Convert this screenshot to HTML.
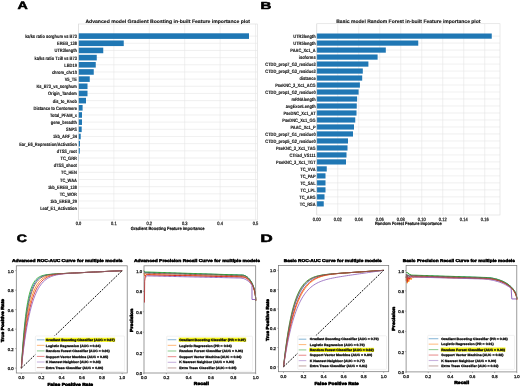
<!DOCTYPE html>
<html><head><meta charset="utf-8"><style>
html,body{margin:0;padding:0;background:#fff;overflow:hidden}
svg{display:block;will-change:transform}
text{font-family:"Liberation Sans",sans-serif;text-rendering:geometricPrecision}
</style></head><body>
<svg width="520" height="386" viewBox="0 0 520 386">
<rect width="520" height="386" fill="#fff"/>
<text x="17.42" y="8.72" font-size="10.83" font-weight="bold" text-anchor="start" fill="#000" stroke="#000" stroke-width="0.55" stroke-linejoin="round" textLength="10.28" lengthAdjust="spacingAndGlyphs">A</text>
<text x="260.57" y="8.68" font-size="10.17" font-weight="bold" text-anchor="start" fill="#000" stroke="#000" stroke-width="0.55" stroke-linejoin="round" textLength="10.83" lengthAdjust="spacingAndGlyphs">B</text>
<text x="16.89" y="241.72" font-size="10.80" font-weight="bold" text-anchor="start" fill="#000" stroke="#000" stroke-width="0.55" stroke-linejoin="round" textLength="10.22" lengthAdjust="spacingAndGlyphs">C</text>
<text x="260.45" y="241.83" font-size="10.83" font-weight="bold" text-anchor="start" fill="#000" stroke="#000" stroke-width="0.55" stroke-linejoin="round" textLength="12.19" lengthAdjust="spacingAndGlyphs">D</text>
<rect x="78.50" y="24.00" width="178.75" height="196.00" fill="#fff" stroke="none" stroke-width="0"/>
<line x1="78.50" y1="24.00" x2="78.50" y2="220.00" stroke="#e6e6e6" stroke-width="0.6"/>
<line x1="113.90" y1="24.00" x2="113.90" y2="220.00" stroke="#e6e6e6" stroke-width="0.6"/>
<line x1="149.30" y1="24.00" x2="149.30" y2="220.00" stroke="#e6e6e6" stroke-width="0.6"/>
<line x1="184.70" y1="24.00" x2="184.70" y2="220.00" stroke="#e6e6e6" stroke-width="0.6"/>
<line x1="220.10" y1="24.00" x2="220.10" y2="220.00" stroke="#e6e6e6" stroke-width="0.6"/>
<line x1="255.50" y1="24.00" x2="255.50" y2="220.00" stroke="#e6e6e6" stroke-width="0.6"/>
<line x1="78.50" y1="36.10" x2="257.25" y2="36.10" stroke="#e6e6e6" stroke-width="0.6"/>
<line x1="78.50" y1="43.27" x2="257.25" y2="43.27" stroke="#e6e6e6" stroke-width="0.6"/>
<line x1="78.50" y1="50.44" x2="257.25" y2="50.44" stroke="#e6e6e6" stroke-width="0.6"/>
<line x1="78.50" y1="57.61" x2="257.25" y2="57.61" stroke="#e6e6e6" stroke-width="0.6"/>
<line x1="78.50" y1="64.78" x2="257.25" y2="64.78" stroke="#e6e6e6" stroke-width="0.6"/>
<line x1="78.50" y1="71.95" x2="257.25" y2="71.95" stroke="#e6e6e6" stroke-width="0.6"/>
<line x1="78.50" y1="79.12" x2="257.25" y2="79.12" stroke="#e6e6e6" stroke-width="0.6"/>
<line x1="78.50" y1="86.29" x2="257.25" y2="86.29" stroke="#e6e6e6" stroke-width="0.6"/>
<line x1="78.50" y1="93.46" x2="257.25" y2="93.46" stroke="#e6e6e6" stroke-width="0.6"/>
<line x1="78.50" y1="100.63" x2="257.25" y2="100.63" stroke="#e6e6e6" stroke-width="0.6"/>
<line x1="78.50" y1="107.80" x2="257.25" y2="107.80" stroke="#e6e6e6" stroke-width="0.6"/>
<line x1="78.50" y1="114.97" x2="257.25" y2="114.97" stroke="#e6e6e6" stroke-width="0.6"/>
<line x1="78.50" y1="122.14" x2="257.25" y2="122.14" stroke="#e6e6e6" stroke-width="0.6"/>
<line x1="78.50" y1="129.31" x2="257.25" y2="129.31" stroke="#e6e6e6" stroke-width="0.6"/>
<line x1="78.50" y1="136.48" x2="257.25" y2="136.48" stroke="#e6e6e6" stroke-width="0.6"/>
<line x1="78.50" y1="143.65" x2="257.25" y2="143.65" stroke="#e6e6e6" stroke-width="0.6"/>
<line x1="78.50" y1="150.82" x2="257.25" y2="150.82" stroke="#e6e6e6" stroke-width="0.6"/>
<line x1="78.50" y1="157.99" x2="257.25" y2="157.99" stroke="#e6e6e6" stroke-width="0.6"/>
<line x1="78.50" y1="165.16" x2="257.25" y2="165.16" stroke="#e6e6e6" stroke-width="0.6"/>
<line x1="78.50" y1="172.33" x2="257.25" y2="172.33" stroke="#e6e6e6" stroke-width="0.6"/>
<line x1="78.50" y1="179.50" x2="257.25" y2="179.50" stroke="#e6e6e6" stroke-width="0.6"/>
<line x1="78.50" y1="186.67" x2="257.25" y2="186.67" stroke="#e6e6e6" stroke-width="0.6"/>
<line x1="78.50" y1="193.84" x2="257.25" y2="193.84" stroke="#e6e6e6" stroke-width="0.6"/>
<line x1="78.50" y1="201.01" x2="257.25" y2="201.01" stroke="#e6e6e6" stroke-width="0.6"/>
<line x1="78.50" y1="208.18" x2="257.25" y2="208.18" stroke="#e6e6e6" stroke-width="0.6"/>
<rect x="78.50" y="33.30" width="170.50" height="5.60" fill="#1f77b4" stroke="none" stroke-width="0"/>
<rect x="78.50" y="40.47" width="45.25" height="5.60" fill="#1f77b4" stroke="none" stroke-width="0"/>
<rect x="78.50" y="47.64" width="24.75" height="5.60" fill="#1f77b4" stroke="none" stroke-width="0"/>
<rect x="78.50" y="54.81" width="18.25" height="5.60" fill="#1f77b4" stroke="none" stroke-width="0"/>
<rect x="78.50" y="61.98" width="17.25" height="5.60" fill="#1f77b4" stroke="none" stroke-width="0"/>
<rect x="78.50" y="69.15" width="15.25" height="5.60" fill="#1f77b4" stroke="none" stroke-width="0"/>
<rect x="78.50" y="76.32" width="11.25" height="5.60" fill="#1f77b4" stroke="none" stroke-width="0"/>
<rect x="78.50" y="83.49" width="9.00" height="5.60" fill="#1f77b4" stroke="none" stroke-width="0"/>
<rect x="78.50" y="90.66" width="9.00" height="5.60" fill="#1f77b4" stroke="none" stroke-width="0"/>
<rect x="78.50" y="97.83" width="7.50" height="5.60" fill="#1f77b4" stroke="none" stroke-width="0"/>
<rect x="78.50" y="105.00" width="4.10" height="5.60" fill="#1f77b4" stroke="none" stroke-width="0"/>
<rect x="78.50" y="112.17" width="3.50" height="5.60" fill="#1f77b4" stroke="none" stroke-width="0"/>
<rect x="78.50" y="119.34" width="3.50" height="5.60" fill="#1f77b4" stroke="none" stroke-width="0"/>
<rect x="78.50" y="126.51" width="3.20" height="5.60" fill="#1f77b4" stroke="none" stroke-width="0"/>
<rect x="78.50" y="133.68" width="2.20" height="5.60" fill="#1f77b4" stroke="none" stroke-width="0"/>
<rect x="78.50" y="140.85" width="1.50" height="5.60" fill="#1f77b4" stroke="none" stroke-width="0"/>
<rect x="78.50" y="148.02" width="1.30" height="5.60" fill="#1f77b4" stroke="none" stroke-width="0"/>
<rect x="78.50" y="155.19" width="0.40" height="5.60" fill="#1f77b4" stroke="none" stroke-width="0"/>
<rect x="78.50" y="24.00" width="178.75" height="196.00" fill="none" stroke="#d9d9d9" stroke-width="0.6"/>
<text x="76.90" y="38.10" font-size="4.80" font-weight="bold" text-anchor="end" fill="#111" stroke="#111" stroke-width="0.12" stroke-linejoin="round" textLength="51.76" lengthAdjust="spacingAndGlyphs">ka/ks ratio sorghum vs B73</text>
<text x="76.90" y="45.27" font-size="4.80" font-weight="bold" text-anchor="end" fill="#111" stroke="#111" stroke-width="0.12" stroke-linejoin="round" textLength="19.91" lengthAdjust="spacingAndGlyphs">EREB_138</text>
<text x="76.90" y="52.44" font-size="4.80" font-weight="bold" text-anchor="end" fill="#111" stroke="#111" stroke-width="0.12" stroke-linejoin="round" textLength="22.33" lengthAdjust="spacingAndGlyphs">UTR3length</text>
<text x="76.90" y="59.61" font-size="4.80" font-weight="bold" text-anchor="end" fill="#111" stroke="#111" stroke-width="0.12" stroke-linejoin="round" textLength="42.47" lengthAdjust="spacingAndGlyphs">ka/ks ratio Tzi8 vs B73</text>
<text x="76.90" y="66.78" font-size="4.80" font-weight="bold" text-anchor="end" fill="#111" stroke="#111" stroke-width="0.12" stroke-linejoin="round" textLength="12.61" lengthAdjust="spacingAndGlyphs">LBD19</text>
<text x="76.90" y="73.95" font-size="4.80" font-weight="bold" text-anchor="end" fill="#111" stroke="#111" stroke-width="0.12" stroke-linejoin="round" textLength="25.00" lengthAdjust="spacingAndGlyphs">chrom_chr10</text>
<text x="76.90" y="81.12" font-size="4.80" font-weight="bold" text-anchor="end" fill="#111" stroke="#111" stroke-width="0.12" stroke-linejoin="round" textLength="12.17" lengthAdjust="spacingAndGlyphs">V5_TE</text>
<text x="76.90" y="88.29" font-size="4.80" font-weight="bold" text-anchor="end" fill="#111" stroke="#111" stroke-width="0.12" stroke-linejoin="round" textLength="40.48" lengthAdjust="spacingAndGlyphs">Ks_B73_vs_sorghum</text>
<text x="76.90" y="95.46" font-size="4.80" font-weight="bold" text-anchor="end" fill="#111" stroke="#111" stroke-width="0.12" stroke-linejoin="round" textLength="28.89" lengthAdjust="spacingAndGlyphs">Origin_Tandem</text>
<text x="76.90" y="102.63" font-size="4.80" font-weight="bold" text-anchor="end" fill="#111" stroke="#111" stroke-width="0.12" stroke-linejoin="round" textLength="24.10" lengthAdjust="spacingAndGlyphs">dis_to_Knob</text>
<text x="76.90" y="109.80" font-size="4.80" font-weight="bold" text-anchor="end" fill="#111" stroke="#111" stroke-width="0.12" stroke-linejoin="round" textLength="43.35" lengthAdjust="spacingAndGlyphs">Distance to Centomere</text>
<text x="76.90" y="116.97" font-size="4.80" font-weight="bold" text-anchor="end" fill="#111" stroke="#111" stroke-width="0.12" stroke-linejoin="round" textLength="26.91" lengthAdjust="spacingAndGlyphs">Total_PFAM_x</text>
<text x="76.90" y="124.14" font-size="4.80" font-weight="bold" text-anchor="end" fill="#111" stroke="#111" stroke-width="0.12" stroke-linejoin="round" textLength="26.10" lengthAdjust="spacingAndGlyphs">gene_breadth</text>
<text x="76.90" y="131.31" font-size="4.80" font-weight="bold" text-anchor="end" fill="#111" stroke="#111" stroke-width="0.12" stroke-linejoin="round" textLength="10.84" lengthAdjust="spacingAndGlyphs">SNPS</text>
<text x="76.90" y="138.48" font-size="4.80" font-weight="bold" text-anchor="end" fill="#111" stroke="#111" stroke-width="0.12" stroke-linejoin="round" textLength="23.89" lengthAdjust="spacingAndGlyphs">1kb_ARF_34</text>
<text x="76.90" y="145.65" font-size="4.80" font-weight="bold" text-anchor="end" fill="#111" stroke="#111" stroke-width="0.12" stroke-linejoin="round" textLength="57.73" lengthAdjust="spacingAndGlyphs">Ear_E6_Repression/Activation</text>
<text x="76.90" y="152.82" font-size="4.80" font-weight="bold" text-anchor="end" fill="#111" stroke="#111" stroke-width="0.12" stroke-linejoin="round" textLength="20.12" lengthAdjust="spacingAndGlyphs">dTSS_root</text>
<text x="76.90" y="159.99" font-size="4.80" font-weight="bold" text-anchor="end" fill="#111" stroke="#111" stroke-width="0.12" stroke-linejoin="round" textLength="16.36" lengthAdjust="spacingAndGlyphs">TC_GRR</text>
<text x="76.90" y="167.16" font-size="4.80" font-weight="bold" text-anchor="end" fill="#111" stroke="#111" stroke-width="0.12" stroke-linejoin="round" textLength="23.22" lengthAdjust="spacingAndGlyphs">dTSS_shoot</text>
<text x="76.90" y="174.33" font-size="4.80" font-weight="bold" text-anchor="end" fill="#111" stroke="#111" stroke-width="0.12" stroke-linejoin="round" textLength="15.92" lengthAdjust="spacingAndGlyphs">TC_HEN</text>
<text x="76.90" y="181.50" font-size="4.80" font-weight="bold" text-anchor="end" fill="#111" stroke="#111" stroke-width="0.12" stroke-linejoin="round" textLength="16.80" lengthAdjust="spacingAndGlyphs">TC_WAA</text>
<text x="76.90" y="188.67" font-size="4.80" font-weight="bold" text-anchor="end" fill="#111" stroke="#111" stroke-width="0.12" stroke-linejoin="round" textLength="28.98" lengthAdjust="spacingAndGlyphs">1kb_EREB_138</text>
<text x="76.90" y="195.84" font-size="4.80" font-weight="bold" text-anchor="end" fill="#111" stroke="#111" stroke-width="0.12" stroke-linejoin="round" textLength="17.25" lengthAdjust="spacingAndGlyphs">TC_WOR</text>
<text x="76.90" y="203.01" font-size="4.80" font-weight="bold" text-anchor="end" fill="#111" stroke="#111" stroke-width="0.12" stroke-linejoin="round" textLength="26.77" lengthAdjust="spacingAndGlyphs">1kb_EREB_29</text>
<text x="76.90" y="210.18" font-size="4.80" font-weight="bold" text-anchor="end" fill="#111" stroke="#111" stroke-width="0.12" stroke-linejoin="round" textLength="36.71" lengthAdjust="spacingAndGlyphs">Leaf_E1_Activation</text>
<text x="78.50" y="225.20" font-size="4.80" font-weight="normal" text-anchor="middle" fill="#222" stroke="#222" stroke-width="0.25" stroke-linejoin="round" textLength="5.56" lengthAdjust="spacingAndGlyphs">0.0</text>
<text x="113.90" y="225.20" font-size="4.80" font-weight="normal" text-anchor="middle" fill="#222" stroke="#222" stroke-width="0.25" stroke-linejoin="round" textLength="5.56" lengthAdjust="spacingAndGlyphs">0.1</text>
<text x="149.30" y="225.20" font-size="4.80" font-weight="normal" text-anchor="middle" fill="#222" stroke="#222" stroke-width="0.25" stroke-linejoin="round" textLength="5.56" lengthAdjust="spacingAndGlyphs">0.2</text>
<text x="184.70" y="225.20" font-size="4.80" font-weight="normal" text-anchor="middle" fill="#222" stroke="#222" stroke-width="0.25" stroke-linejoin="round" textLength="5.56" lengthAdjust="spacingAndGlyphs">0.3</text>
<text x="220.10" y="225.20" font-size="4.80" font-weight="normal" text-anchor="middle" fill="#222" stroke="#222" stroke-width="0.25" stroke-linejoin="round" textLength="5.56" lengthAdjust="spacingAndGlyphs">0.4</text>
<text x="255.50" y="225.20" font-size="4.80" font-weight="normal" text-anchor="middle" fill="#222" stroke="#222" stroke-width="0.25" stroke-linejoin="round" textLength="5.56" lengthAdjust="spacingAndGlyphs">0.5</text>
<text x="130.75" y="230.35" font-size="4.50" font-weight="bold" text-anchor="start" fill="#111" stroke="#111" stroke-width="0.2" stroke-linejoin="round" textLength="73.75" lengthAdjust="spacingAndGlyphs">Gradient Boosting Feature importance</text>
<text x="85.40" y="22.50" font-size="4.90" font-weight="bold" text-anchor="start" fill="#111" stroke="#111" stroke-width="0.12" stroke-linejoin="round" textLength="164.60" lengthAdjust="spacingAndGlyphs">Advanced model Gradient Boosting in-built Feature importance plot</text>
<rect x="316.75" y="23.75" width="183.25" height="191.25" fill="#fff" stroke="none" stroke-width="0"/>
<line x1="316.75" y1="23.75" x2="316.75" y2="215.00" stroke="#e6e6e6" stroke-width="0.6"/>
<line x1="337.75" y1="23.75" x2="337.75" y2="215.00" stroke="#e6e6e6" stroke-width="0.6"/>
<line x1="358.75" y1="23.75" x2="358.75" y2="215.00" stroke="#e6e6e6" stroke-width="0.6"/>
<line x1="379.75" y1="23.75" x2="379.75" y2="215.00" stroke="#e6e6e6" stroke-width="0.6"/>
<line x1="400.75" y1="23.75" x2="400.75" y2="215.00" stroke="#e6e6e6" stroke-width="0.6"/>
<line x1="421.75" y1="23.75" x2="421.75" y2="215.00" stroke="#e6e6e6" stroke-width="0.6"/>
<line x1="442.75" y1="23.75" x2="442.75" y2="215.00" stroke="#e6e6e6" stroke-width="0.6"/>
<line x1="463.75" y1="23.75" x2="463.75" y2="215.00" stroke="#e6e6e6" stroke-width="0.6"/>
<line x1="484.75" y1="23.75" x2="484.75" y2="215.00" stroke="#e6e6e6" stroke-width="0.6"/>
<line x1="316.75" y1="36.10" x2="500.00" y2="36.10" stroke="#e6e6e6" stroke-width="0.6"/>
<line x1="316.75" y1="43.09" x2="500.00" y2="43.09" stroke="#e6e6e6" stroke-width="0.6"/>
<line x1="316.75" y1="50.08" x2="500.00" y2="50.08" stroke="#e6e6e6" stroke-width="0.6"/>
<line x1="316.75" y1="57.07" x2="500.00" y2="57.07" stroke="#e6e6e6" stroke-width="0.6"/>
<line x1="316.75" y1="64.06" x2="500.00" y2="64.06" stroke="#e6e6e6" stroke-width="0.6"/>
<line x1="316.75" y1="71.05" x2="500.00" y2="71.05" stroke="#e6e6e6" stroke-width="0.6"/>
<line x1="316.75" y1="78.04" x2="500.00" y2="78.04" stroke="#e6e6e6" stroke-width="0.6"/>
<line x1="316.75" y1="85.03" x2="500.00" y2="85.03" stroke="#e6e6e6" stroke-width="0.6"/>
<line x1="316.75" y1="92.02" x2="500.00" y2="92.02" stroke="#e6e6e6" stroke-width="0.6"/>
<line x1="316.75" y1="99.01" x2="500.00" y2="99.01" stroke="#e6e6e6" stroke-width="0.6"/>
<line x1="316.75" y1="106.00" x2="500.00" y2="106.00" stroke="#e6e6e6" stroke-width="0.6"/>
<line x1="316.75" y1="112.99" x2="500.00" y2="112.99" stroke="#e6e6e6" stroke-width="0.6"/>
<line x1="316.75" y1="119.98" x2="500.00" y2="119.98" stroke="#e6e6e6" stroke-width="0.6"/>
<line x1="316.75" y1="126.97" x2="500.00" y2="126.97" stroke="#e6e6e6" stroke-width="0.6"/>
<line x1="316.75" y1="133.96" x2="500.00" y2="133.96" stroke="#e6e6e6" stroke-width="0.6"/>
<line x1="316.75" y1="140.95" x2="500.00" y2="140.95" stroke="#e6e6e6" stroke-width="0.6"/>
<line x1="316.75" y1="147.94" x2="500.00" y2="147.94" stroke="#e6e6e6" stroke-width="0.6"/>
<line x1="316.75" y1="154.93" x2="500.00" y2="154.93" stroke="#e6e6e6" stroke-width="0.6"/>
<line x1="316.75" y1="161.92" x2="500.00" y2="161.92" stroke="#e6e6e6" stroke-width="0.6"/>
<line x1="316.75" y1="168.91" x2="500.00" y2="168.91" stroke="#e6e6e6" stroke-width="0.6"/>
<line x1="316.75" y1="175.90" x2="500.00" y2="175.90" stroke="#e6e6e6" stroke-width="0.6"/>
<line x1="316.75" y1="182.89" x2="500.00" y2="182.89" stroke="#e6e6e6" stroke-width="0.6"/>
<line x1="316.75" y1="189.88" x2="500.00" y2="189.88" stroke="#e6e6e6" stroke-width="0.6"/>
<line x1="316.75" y1="196.87" x2="500.00" y2="196.87" stroke="#e6e6e6" stroke-width="0.6"/>
<line x1="316.75" y1="203.86" x2="500.00" y2="203.86" stroke="#e6e6e6" stroke-width="0.6"/>
<rect x="316.75" y="33.50" width="175.00" height="5.20" fill="#1f77b4" stroke="none" stroke-width="0"/>
<rect x="316.75" y="40.49" width="101.50" height="5.20" fill="#1f77b4" stroke="none" stroke-width="0"/>
<rect x="316.75" y="47.48" width="69.05" height="5.20" fill="#1f77b4" stroke="none" stroke-width="0"/>
<rect x="316.75" y="54.47" width="60.85" height="5.20" fill="#1f77b4" stroke="none" stroke-width="0"/>
<rect x="316.75" y="61.46" width="51.65" height="5.20" fill="#1f77b4" stroke="none" stroke-width="0"/>
<rect x="316.75" y="68.45" width="46.05" height="5.20" fill="#1f77b4" stroke="none" stroke-width="0"/>
<rect x="316.75" y="75.44" width="45.45" height="5.20" fill="#1f77b4" stroke="none" stroke-width="0"/>
<rect x="316.75" y="82.43" width="43.15" height="5.20" fill="#1f77b4" stroke="none" stroke-width="0"/>
<rect x="316.75" y="89.42" width="41.85" height="5.20" fill="#1f77b4" stroke="none" stroke-width="0"/>
<rect x="316.75" y="96.41" width="40.35" height="5.20" fill="#1f77b4" stroke="none" stroke-width="0"/>
<rect x="316.75" y="103.40" width="40.00" height="5.20" fill="#1f77b4" stroke="none" stroke-width="0"/>
<rect x="316.75" y="110.39" width="39.75" height="5.20" fill="#1f77b4" stroke="none" stroke-width="0"/>
<rect x="316.75" y="117.38" width="38.50" height="5.20" fill="#1f77b4" stroke="none" stroke-width="0"/>
<rect x="316.75" y="124.37" width="37.25" height="5.20" fill="#1f77b4" stroke="none" stroke-width="0"/>
<rect x="316.75" y="131.36" width="36.25" height="5.20" fill="#1f77b4" stroke="none" stroke-width="0"/>
<rect x="316.75" y="138.35" width="31.25" height="5.20" fill="#1f77b4" stroke="none" stroke-width="0"/>
<rect x="316.75" y="145.34" width="30.75" height="5.20" fill="#1f77b4" stroke="none" stroke-width="0"/>
<rect x="316.75" y="152.33" width="29.75" height="5.20" fill="#1f77b4" stroke="none" stroke-width="0"/>
<rect x="316.75" y="159.32" width="29.25" height="5.20" fill="#1f77b4" stroke="none" stroke-width="0"/>
<rect x="316.75" y="166.31" width="10.00" height="5.20" fill="#1f77b4" stroke="none" stroke-width="0"/>
<rect x="316.75" y="173.30" width="8.75" height="5.20" fill="#1f77b4" stroke="none" stroke-width="0"/>
<rect x="316.75" y="180.29" width="8.75" height="5.20" fill="#1f77b4" stroke="none" stroke-width="0"/>
<rect x="316.75" y="187.28" width="8.75" height="5.20" fill="#1f77b4" stroke="none" stroke-width="0"/>
<rect x="316.75" y="194.27" width="7.75" height="5.20" fill="#1f77b4" stroke="none" stroke-width="0"/>
<rect x="316.75" y="201.26" width="7.00" height="5.20" fill="#1f77b4" stroke="none" stroke-width="0"/>
<rect x="316.75" y="23.75" width="183.25" height="191.25" fill="none" stroke="#d9d9d9" stroke-width="0.6"/>
<text x="315.60" y="38.10" font-size="4.80" font-weight="bold" text-anchor="end" fill="#111" stroke="#111" stroke-width="0.12" stroke-linejoin="round" textLength="22.27" lengthAdjust="spacingAndGlyphs">UTR3length</text>
<text x="315.60" y="45.09" font-size="4.80" font-weight="bold" text-anchor="end" fill="#111" stroke="#111" stroke-width="0.12" stroke-linejoin="round" textLength="22.27" lengthAdjust="spacingAndGlyphs">UTR5length</text>
<text x="315.60" y="52.08" font-size="4.80" font-weight="bold" text-anchor="end" fill="#111" stroke="#111" stroke-width="0.12" stroke-linejoin="round" textLength="25.30" lengthAdjust="spacingAndGlyphs">PAAC_Xc1_A</text>
<text x="315.60" y="59.07" font-size="4.80" font-weight="bold" text-anchor="end" fill="#111" stroke="#111" stroke-width="0.12" stroke-linejoin="round" textLength="16.77" lengthAdjust="spacingAndGlyphs">isoforms</text>
<text x="315.60" y="66.06" font-size="4.80" font-weight="bold" text-anchor="end" fill="#111" stroke="#111" stroke-width="0.12" stroke-linejoin="round" textLength="50.30" lengthAdjust="spacingAndGlyphs">CTDD_prop7_G3_residue3</text>
<text x="315.60" y="73.05" font-size="4.80" font-weight="bold" text-anchor="end" fill="#111" stroke="#111" stroke-width="0.12" stroke-linejoin="round" textLength="50.30" lengthAdjust="spacingAndGlyphs">CTDD_prop2_G3_residue3</text>
<text x="315.60" y="80.04" font-size="4.80" font-weight="bold" text-anchor="end" fill="#111" stroke="#111" stroke-width="0.12" stroke-linejoin="round" textLength="16.11" lengthAdjust="spacingAndGlyphs">distance</text>
<text x="315.60" y="87.03" font-size="4.80" font-weight="bold" text-anchor="end" fill="#111" stroke="#111" stroke-width="0.12" stroke-linejoin="round" textLength="40.38" lengthAdjust="spacingAndGlyphs">PseKNC_3_Xc1_ACG</text>
<text x="315.60" y="94.02" font-size="4.80" font-weight="bold" text-anchor="end" fill="#111" stroke="#111" stroke-width="0.12" stroke-linejoin="round" textLength="50.30" lengthAdjust="spacingAndGlyphs">CTDD_prop1_G2_residue0</text>
<text x="315.60" y="101.01" font-size="4.80" font-weight="bold" text-anchor="end" fill="#111" stroke="#111" stroke-width="0.12" stroke-linejoin="round" textLength="24.04" lengthAdjust="spacingAndGlyphs">mRNAlength</text>
<text x="315.60" y="108.00" font-size="4.80" font-weight="bold" text-anchor="end" fill="#111" stroke="#111" stroke-width="0.12" stroke-linejoin="round" textLength="29.77" lengthAdjust="spacingAndGlyphs">avgExonLength</text>
<text x="315.60" y="114.99" font-size="4.80" font-weight="bold" text-anchor="end" fill="#111" stroke="#111" stroke-width="0.12" stroke-linejoin="round" textLength="32.14" lengthAdjust="spacingAndGlyphs">PseDNC_Xc1_AT</text>
<text x="315.60" y="121.98" font-size="4.80" font-weight="bold" text-anchor="end" fill="#111" stroke="#111" stroke-width="0.12" stroke-linejoin="round" textLength="33.32" lengthAdjust="spacingAndGlyphs">PseDNC_Xc1_GG</text>
<text x="315.60" y="128.97" font-size="4.80" font-weight="bold" text-anchor="end" fill="#111" stroke="#111" stroke-width="0.12" stroke-linejoin="round" textLength="25.08" lengthAdjust="spacingAndGlyphs">PAAC_Xc1_P</text>
<text x="315.60" y="135.96" font-size="4.80" font-weight="bold" text-anchor="end" fill="#111" stroke="#111" stroke-width="0.12" stroke-linejoin="round" textLength="50.30" lengthAdjust="spacingAndGlyphs">CTDD_prop7_G1_residue0</text>
<text x="315.60" y="142.95" font-size="4.80" font-weight="bold" text-anchor="end" fill="#111" stroke="#111" stroke-width="0.12" stroke-linejoin="round" textLength="50.30" lengthAdjust="spacingAndGlyphs">CTDD_prop5_G2_residue0</text>
<text x="315.60" y="149.94" font-size="4.80" font-weight="bold" text-anchor="end" fill="#111" stroke="#111" stroke-width="0.12" stroke-linejoin="round" textLength="39.64" lengthAdjust="spacingAndGlyphs">PseKNC_3_Xc1_TAG</text>
<text x="315.60" y="156.93" font-size="4.80" font-weight="bold" text-anchor="end" fill="#111" stroke="#111" stroke-width="0.12" stroke-linejoin="round" textLength="26.04" lengthAdjust="spacingAndGlyphs">CTriad_VS111</text>
<text x="315.60" y="163.92" font-size="4.80" font-weight="bold" text-anchor="end" fill="#111" stroke="#111" stroke-width="0.12" stroke-linejoin="round" textLength="39.50" lengthAdjust="spacingAndGlyphs">PseKNC_3_Xc1_TGT</text>
<text x="315.60" y="170.91" font-size="4.80" font-weight="bold" text-anchor="end" fill="#111" stroke="#111" stroke-width="0.12" stroke-linejoin="round" textLength="15.37" lengthAdjust="spacingAndGlyphs">TC_VVA</text>
<text x="315.60" y="177.90" font-size="4.80" font-weight="bold" text-anchor="end" fill="#111" stroke="#111" stroke-width="0.12" stroke-linejoin="round" textLength="15.37" lengthAdjust="spacingAndGlyphs">TC_PAP</text>
<text x="315.60" y="184.89" font-size="4.80" font-weight="bold" text-anchor="end" fill="#111" stroke="#111" stroke-width="0.12" stroke-linejoin="round" textLength="15.44" lengthAdjust="spacingAndGlyphs">TC_SAL</text>
<text x="315.60" y="191.88" font-size="4.80" font-weight="bold" text-anchor="end" fill="#111" stroke="#111" stroke-width="0.12" stroke-linejoin="round" textLength="15.00" lengthAdjust="spacingAndGlyphs">TC_LPL</text>
<text x="315.60" y="198.87" font-size="4.80" font-weight="bold" text-anchor="end" fill="#111" stroke="#111" stroke-width="0.12" stroke-linejoin="round" textLength="16.32" lengthAdjust="spacingAndGlyphs">TC_ARG</text>
<text x="315.60" y="205.86" font-size="4.80" font-weight="bold" text-anchor="end" fill="#111" stroke="#111" stroke-width="0.12" stroke-linejoin="round" textLength="15.88" lengthAdjust="spacingAndGlyphs">TC_RSA</text>
<text x="316.75" y="221.00" font-size="4.80" font-weight="normal" text-anchor="middle" fill="#222" stroke="#222" stroke-width="0.25" stroke-linejoin="round" textLength="7.78" lengthAdjust="spacingAndGlyphs">0.00</text>
<text x="337.75" y="221.00" font-size="4.80" font-weight="normal" text-anchor="middle" fill="#222" stroke="#222" stroke-width="0.25" stroke-linejoin="round" textLength="7.78" lengthAdjust="spacingAndGlyphs">0.02</text>
<text x="358.75" y="221.00" font-size="4.80" font-weight="normal" text-anchor="middle" fill="#222" stroke="#222" stroke-width="0.25" stroke-linejoin="round" textLength="7.78" lengthAdjust="spacingAndGlyphs">0.04</text>
<text x="379.75" y="221.00" font-size="4.80" font-weight="normal" text-anchor="middle" fill="#222" stroke="#222" stroke-width="0.25" stroke-linejoin="round" textLength="7.78" lengthAdjust="spacingAndGlyphs">0.06</text>
<text x="400.75" y="221.00" font-size="4.80" font-weight="normal" text-anchor="middle" fill="#222" stroke="#222" stroke-width="0.25" stroke-linejoin="round" textLength="7.78" lengthAdjust="spacingAndGlyphs">0.08</text>
<text x="421.75" y="221.00" font-size="4.80" font-weight="normal" text-anchor="middle" fill="#222" stroke="#222" stroke-width="0.25" stroke-linejoin="round" textLength="7.78" lengthAdjust="spacingAndGlyphs">0.10</text>
<text x="442.75" y="221.00" font-size="4.80" font-weight="normal" text-anchor="middle" fill="#222" stroke="#222" stroke-width="0.25" stroke-linejoin="round" textLength="7.78" lengthAdjust="spacingAndGlyphs">0.12</text>
<text x="463.75" y="221.00" font-size="4.80" font-weight="normal" text-anchor="middle" fill="#222" stroke="#222" stroke-width="0.25" stroke-linejoin="round" textLength="7.78" lengthAdjust="spacingAndGlyphs">0.14</text>
<text x="484.75" y="221.00" font-size="4.80" font-weight="normal" text-anchor="middle" fill="#222" stroke="#222" stroke-width="0.25" stroke-linejoin="round" textLength="7.78" lengthAdjust="spacingAndGlyphs">0.16</text>
<text x="375.00" y="225.35" font-size="4.50" font-weight="bold" text-anchor="start" fill="#111" stroke="#111" stroke-width="0.2" stroke-linejoin="round" textLength="66.75" lengthAdjust="spacingAndGlyphs">Random Forest Feature importance</text>
<text x="336.25" y="22.50" font-size="4.90" font-weight="bold" text-anchor="start" fill="#111" stroke="#111" stroke-width="0.12" stroke-linejoin="round" textLength="144.25" lengthAdjust="spacingAndGlyphs">Basic model Random Forest in-built Feature importance plot</text>
<rect x="16.30" y="265.80" width="110.90" height="107.20" fill="#fff" stroke="none" stroke-width="0"/>
<line x1="21.34" y1="373.00" x2="21.34" y2="374.20" stroke="#333" stroke-width="0.4"/>
<line x1="15.10" y1="368.13" x2="16.30" y2="368.13" stroke="#333" stroke-width="0.4"/>
<text x="21.34" y="378.80" font-size="4.20" font-weight="normal" text-anchor="middle" fill="#222" stroke="#222" stroke-width="0.3" stroke-linejoin="round">0.0</text>
<text x="13.70" y="370.23" font-size="4.20" font-weight="normal" text-anchor="end" fill="#222" stroke="#222" stroke-width="0.3" stroke-linejoin="round">0.0</text>
<line x1="41.50" y1="373.00" x2="41.50" y2="374.20" stroke="#333" stroke-width="0.4"/>
<line x1="15.10" y1="348.64" x2="16.30" y2="348.64" stroke="#333" stroke-width="0.4"/>
<text x="41.50" y="378.80" font-size="4.20" font-weight="normal" text-anchor="middle" fill="#222" stroke="#222" stroke-width="0.3" stroke-linejoin="round">0.2</text>
<text x="13.70" y="350.74" font-size="4.20" font-weight="normal" text-anchor="end" fill="#222" stroke="#222" stroke-width="0.3" stroke-linejoin="round">0.2</text>
<line x1="61.67" y1="373.00" x2="61.67" y2="374.20" stroke="#333" stroke-width="0.4"/>
<line x1="15.10" y1="329.15" x2="16.30" y2="329.15" stroke="#333" stroke-width="0.4"/>
<text x="61.67" y="378.80" font-size="4.20" font-weight="normal" text-anchor="middle" fill="#222" stroke="#222" stroke-width="0.3" stroke-linejoin="round">0.4</text>
<text x="13.70" y="331.25" font-size="4.20" font-weight="normal" text-anchor="end" fill="#222" stroke="#222" stroke-width="0.3" stroke-linejoin="round">0.4</text>
<line x1="81.83" y1="373.00" x2="81.83" y2="374.20" stroke="#333" stroke-width="0.4"/>
<line x1="15.10" y1="309.65" x2="16.30" y2="309.65" stroke="#333" stroke-width="0.4"/>
<text x="81.83" y="378.80" font-size="4.20" font-weight="normal" text-anchor="middle" fill="#222" stroke="#222" stroke-width="0.3" stroke-linejoin="round">0.6</text>
<text x="13.70" y="311.75" font-size="4.20" font-weight="normal" text-anchor="end" fill="#222" stroke="#222" stroke-width="0.3" stroke-linejoin="round">0.6</text>
<line x1="102.00" y1="373.00" x2="102.00" y2="374.20" stroke="#333" stroke-width="0.4"/>
<line x1="15.10" y1="290.16" x2="16.30" y2="290.16" stroke="#333" stroke-width="0.4"/>
<text x="102.00" y="378.80" font-size="4.20" font-weight="normal" text-anchor="middle" fill="#222" stroke="#222" stroke-width="0.3" stroke-linejoin="round">0.8</text>
<text x="13.70" y="292.26" font-size="4.20" font-weight="normal" text-anchor="end" fill="#222" stroke="#222" stroke-width="0.3" stroke-linejoin="round">0.8</text>
<line x1="122.16" y1="373.00" x2="122.16" y2="374.20" stroke="#333" stroke-width="0.4"/>
<line x1="15.10" y1="270.67" x2="16.30" y2="270.67" stroke="#333" stroke-width="0.4"/>
<text x="122.16" y="378.80" font-size="4.20" font-weight="normal" text-anchor="middle" fill="#222" stroke="#222" stroke-width="0.3" stroke-linejoin="round">1.0</text>
<text x="13.70" y="272.77" font-size="4.20" font-weight="normal" text-anchor="end" fill="#222" stroke="#222" stroke-width="0.3" stroke-linejoin="round">1.0</text>
<path d="M21.34,368.13 L21.39,367.38 L21.51,365.54 L21.69,362.83 L21.92,359.40 L22.21,355.37 L22.55,350.88 L22.94,346.03 L23.37,340.94 L23.85,335.71 L24.38,330.45 L24.95,325.23 L25.56,320.13 L26.21,315.22 L26.90,310.55 L27.64,306.15 L28.42,302.07 L29.23,298.32 L30.09,294.91 L30.98,291.85 L31.91,289.11 L32.88,286.70 L33.89,284.60 L34.94,282.77 L36.02,281.21 L37.14,279.89 L38.30,278.77 L39.49,277.84 L40.72,277.07 L41.98,276.43 L43.28,275.91 L44.61,275.49 L45.98,275.14 L47.38,274.86 L48.82,274.63 L50.29,274.44 L51.80,274.28 L53.34,274.14 L54.91,274.02 L56.52,273.91 L58.16,273.81 L59.83,273.71 L61.54,273.62 L63.28,273.53 L65.05,273.44 L66.85,273.35 L68.69,273.26 L70.56,273.17 L72.46,273.08 L74.39,272.98 L76.36,272.89 L78.36,272.79 L80.38,272.69 L82.44,272.59 L84.53,272.49 L86.66,272.39 L88.81,272.28 L90.99,272.18 L93.21,272.07 L95.45,271.96 L97.73,271.85 L100.04,271.74 L102.37,271.63 L104.74,271.51 L107.14,271.40 L109.57,271.28 L112.03,271.16 L114.52,271.04 L117.03,270.92 L119.58,270.80 L122.16,270.67" fill="none" stroke="#1f77b4" stroke-width="0.85" stroke-linejoin="round"/>
<path d="M21.34,368.13 L21.39,367.54 L21.51,366.11 L21.69,363.98 L21.92,361.27 L22.21,358.06 L22.55,354.42 L22.94,350.45 L23.37,346.21 L23.85,341.78 L24.38,337.23 L24.95,332.62 L25.56,328.02 L26.21,323.48 L26.90,319.04 L27.64,314.74 L28.42,310.63 L29.23,306.73 L30.09,303.06 L30.98,299.64 L31.91,296.48 L32.88,293.58 L33.89,290.94 L34.94,288.56 L36.02,286.43 L37.14,284.54 L38.30,282.87 L39.49,281.41 L40.72,280.14 L41.98,279.05 L43.28,278.11 L44.61,277.32 L45.98,276.65 L47.38,276.08 L48.82,275.60 L50.29,275.21 L51.80,274.88 L53.34,274.60 L54.91,274.36 L56.52,274.17 L58.16,274.00 L59.83,273.85 L61.54,273.71 L63.28,273.59 L65.05,273.48 L66.85,273.38 L68.69,273.28 L70.56,273.18 L72.46,273.08 L74.39,272.99 L76.36,272.89 L78.36,272.79 L80.38,272.69 L82.44,272.59 L84.53,272.49 L86.66,272.39 L88.81,272.28 L90.99,272.18 L93.21,272.07 L95.45,271.96 L97.73,271.85 L100.04,271.74 L102.37,271.63 L104.74,271.51 L107.14,271.40 L109.57,271.28 L112.03,271.16 L114.52,271.04 L117.03,270.92 L119.58,270.80 L122.16,270.67" fill="none" stroke="#ff7f0e" stroke-width="0.85" stroke-linejoin="round"/>
<path d="M21.34,368.13 L21.39,367.29 L21.51,365.24 L21.69,362.23 L21.92,358.43 L22.21,354.00 L22.55,349.08 L22.94,343.81 L23.37,338.33 L23.85,332.75 L24.38,327.18 L24.95,321.73 L25.56,316.46 L26.21,311.46 L26.90,306.76 L27.64,302.41 L28.42,298.43 L29.23,294.84 L30.09,291.63 L30.98,288.79 L31.91,286.31 L32.88,284.17 L33.89,282.34 L34.94,280.79 L36.02,279.49 L37.14,278.41 L38.30,277.53 L39.49,276.80 L40.72,276.21 L41.98,275.74 L43.28,275.36 L44.61,275.05 L45.98,274.81 L47.38,274.60 L48.82,274.44 L50.29,274.30 L51.80,274.17 L53.34,274.06 L54.91,273.97 L56.52,273.87 L58.16,273.78 L59.83,273.70 L61.54,273.61 L63.28,273.52 L65.05,273.43 L66.85,273.35 L68.69,273.26 L70.56,273.17 L72.46,273.07 L74.39,272.98 L76.36,272.89 L78.36,272.79 L80.38,272.69 L82.44,272.59 L84.53,272.49 L86.66,272.39 L88.81,272.28 L90.99,272.18 L93.21,272.07 L95.45,271.96 L97.73,271.85 L100.04,271.74 L102.37,271.63 L104.74,271.51 L107.14,271.40 L109.57,271.28 L112.03,271.16 L114.52,271.04 L117.03,270.92 L119.58,270.80 L122.16,270.67" fill="none" stroke="#2ca02c" stroke-width="0.85" stroke-linejoin="round"/>
<path d="M21.34,368.13 L21.39,367.61 L21.51,366.35 L21.69,364.47 L21.92,362.07 L22.21,359.21 L22.55,355.96 L22.94,352.39 L23.37,348.55 L23.85,344.51 L24.38,340.33 L24.95,336.06 L25.56,331.75 L26.21,327.45 L26.90,323.20 L27.64,319.04 L28.42,315.01 L29.23,311.13 L30.09,307.43 L30.98,303.93 L31.91,300.64 L32.88,297.58 L33.89,294.74 L34.94,292.13 L36.02,289.75 L37.14,287.60 L38.30,285.66 L39.49,283.93 L40.72,282.40 L41.98,281.04 L43.28,279.86 L44.61,278.83 L45.98,277.94 L47.38,277.18 L48.82,276.53 L50.29,275.97 L51.80,275.50 L53.34,275.10 L54.91,274.77 L56.52,274.48 L58.16,274.24 L59.83,274.03 L61.54,273.86 L63.28,273.70 L65.05,273.56 L66.85,273.43 L68.69,273.32 L70.56,273.21 L72.46,273.10 L74.39,273.00 L76.36,272.90 L78.36,272.80 L80.38,272.70 L82.44,272.59 L84.53,272.49 L86.66,272.39 L88.81,272.28 L90.99,272.18 L93.21,272.07 L95.45,271.96 L97.73,271.85 L100.04,271.74 L102.37,271.63 L104.74,271.51 L107.14,271.40 L109.57,271.28 L112.03,271.16 L114.52,271.04 L117.03,270.92 L119.58,270.80 L122.16,270.67" fill="none" stroke="#d62728" stroke-width="0.85" stroke-linejoin="round"/>
<path d="M21.34,368.13 L21.39,367.67 L21.51,366.55 L21.69,364.87 L21.92,362.73 L22.21,360.16 L22.55,357.24 L22.94,354.00 L23.37,350.51 L23.85,346.82 L24.38,342.97 L24.95,339.00 L25.56,334.97 L26.21,330.91 L26.90,326.87 L27.64,322.87 L28.42,318.96 L29.23,315.15 L30.09,311.48 L30.98,307.96 L31.91,304.61 L32.88,301.45 L33.89,298.48 L34.94,295.71 L36.02,293.14 L37.14,290.78 L38.30,288.62 L39.49,286.66 L40.72,284.89 L41.98,283.30 L43.28,281.88 L44.61,280.62 L45.98,279.52 L47.38,278.55 L48.82,277.71 L50.29,276.98 L51.80,276.35 L53.34,275.81 L54.91,275.35 L56.52,274.96 L58.16,274.62 L59.83,274.34 L61.54,274.09 L63.28,273.88 L65.05,273.70 L66.85,273.54 L68.69,273.39 L70.56,273.26 L72.46,273.14 L74.39,273.02 L76.36,272.91 L78.36,272.81 L80.38,272.70 L82.44,272.60 L84.53,272.49 L86.66,272.39 L88.81,272.29 L90.99,272.18 L93.21,272.07 L95.45,271.96 L97.73,271.85 L100.04,271.74 L102.37,271.63 L104.74,271.51 L107.14,271.40 L109.57,271.28 L112.03,271.16 L114.52,271.04 L117.03,270.92 L119.58,270.80 L122.16,270.67" fill="none" stroke="#9467bd" stroke-width="0.85" stroke-linejoin="round"/>
<path d="M21.34,368.13 L21.39,367.44 L21.51,365.76 L21.69,363.28 L21.92,360.13 L22.21,356.42 L22.55,352.26 L22.94,347.74 L23.37,342.97 L23.85,338.04 L24.38,333.03 L24.95,328.03 L25.56,323.09 L26.21,318.29 L26.90,313.68 L27.64,309.30 L28.42,305.17 L29.23,301.34 L30.09,297.80 L30.98,294.57 L31.91,291.66 L32.88,289.05 L33.89,286.73 L34.94,284.69 L36.02,282.91 L37.14,281.38 L38.30,280.06 L39.49,278.94 L40.72,278.00 L41.98,277.21 L43.28,276.55 L44.61,276.01 L45.98,275.56 L47.38,275.19 L48.82,274.88 L50.29,274.63 L51.80,274.42 L53.34,274.25 L54.91,274.10 L56.52,273.96 L58.16,273.85 L59.83,273.74 L61.54,273.64 L63.28,273.54 L65.05,273.45 L66.85,273.35 L68.69,273.26 L70.56,273.17 L72.46,273.08 L74.39,272.98 L76.36,272.89 L78.36,272.79 L80.38,272.69 L82.44,272.59 L84.53,272.49 L86.66,272.39 L88.81,272.28 L90.99,272.18 L93.21,272.07 L95.45,271.96 L97.73,271.85 L100.04,271.74 L102.37,271.63 L104.74,271.51 L107.14,271.40 L109.57,271.28 L112.03,271.16 L114.52,271.04 L117.03,270.92 L119.58,270.80 L122.16,270.67" fill="none" stroke="#8c564b" stroke-width="0.85" stroke-linejoin="round"/>
<path d="M21.34,368.13 L122.16,270.67" fill="none" stroke="#111" stroke-width="1.0" stroke-linejoin="round" stroke-dasharray="2.0 1.2"/>
<rect x="16.30" y="265.80" width="110.90" height="107.20" fill="none" stroke="#7a7a7a" stroke-width="0.75"/>
<rect x="35.40" y="336.00" width="89.10" height="35.50" fill="#fff" stroke="#dddddd" stroke-width="0.4" rx="0.8"/>
<rect x="45.30" y="337.70" width="69.86" height="4.20" fill="#f5f516" stroke="none" stroke-width="0"/>
<line x1="36.90" y1="339.80" x2="44.50" y2="339.80" stroke="#1f77b4" stroke-width="1.1" stroke-opacity="0.5"/>
<text x="45.80" y="340.95" font-size="3.20" font-weight="bold" text-anchor="start" fill="#111" stroke="#111" stroke-width="0.3" stroke-linejoin="round" textLength="68.86" lengthAdjust="spacingAndGlyphs">Gradient Boosting Classifier (AUC = 0.87)</text>
<line x1="36.90" y1="345.35" x2="44.50" y2="345.35" stroke="#ff7f0e" stroke-width="1.1" stroke-opacity="0.5"/>
<text x="45.80" y="346.50" font-size="3.20" font-weight="bold" text-anchor="start" fill="#111" stroke="#111" stroke-width="0.3" stroke-linejoin="round" textLength="54.75" lengthAdjust="spacingAndGlyphs">Logistic Regression (AUC = 0.84)</text>
<line x1="36.90" y1="350.90" x2="44.50" y2="350.90" stroke="#2ca02c" stroke-width="1.1" stroke-opacity="0.5"/>
<text x="45.80" y="352.05" font-size="3.20" font-weight="bold" text-anchor="start" fill="#111" stroke="#111" stroke-width="0.3" stroke-linejoin="round" textLength="63.78" lengthAdjust="spacingAndGlyphs">Random Forest Classifier (AUC = 0.86)</text>
<line x1="36.90" y1="356.45" x2="44.50" y2="356.45" stroke="#d62728" stroke-width="1.1" stroke-opacity="0.5"/>
<text x="45.80" y="357.60" font-size="3.20" font-weight="bold" text-anchor="start" fill="#111" stroke="#111" stroke-width="0.3" stroke-linejoin="round" textLength="62.32" lengthAdjust="spacingAndGlyphs">Support Vector Machine (AUC = 0.85)</text>
<line x1="36.90" y1="362.00" x2="44.50" y2="362.00" stroke="#9467bd" stroke-width="1.1" stroke-opacity="0.5"/>
<text x="45.80" y="363.15" font-size="3.20" font-weight="bold" text-anchor="start" fill="#111" stroke="#111" stroke-width="0.3" stroke-linejoin="round" textLength="54.99" lengthAdjust="spacingAndGlyphs">K Nearest Neighbor (AUC = 0.83)</text>
<line x1="36.90" y1="367.55" x2="44.50" y2="367.55" stroke="#8c564b" stroke-width="1.1" stroke-opacity="0.5"/>
<text x="45.80" y="368.70" font-size="3.20" font-weight="bold" text-anchor="start" fill="#111" stroke="#111" stroke-width="0.3" stroke-linejoin="round" textLength="57.34" lengthAdjust="spacingAndGlyphs">Extra Trees Classifier (AUC = 0.86)</text>
<text x="12.00" y="262.40" font-size="4.10" font-weight="bold" text-anchor="start" fill="#000" stroke="#000" stroke-width="0.45" stroke-linejoin="round" textLength="110.50" lengthAdjust="spacingAndGlyphs">Advanced ROC-AUC Curve for multiple models</text>
<text x="4.35" y="320.60" font-size="4.40" font-weight="bold" text-anchor="middle" fill="#000" stroke="#000" stroke-width="0.55" stroke-linejoin="round" textLength="43.40" lengthAdjust="spacingAndGlyphs" transform="rotate(-90 4.35 320.60)">True Positive Rate</text>
<text x="47.50" y="385.90" font-size="4.40" font-weight="bold" text-anchor="start" fill="#000" stroke="#000" stroke-width="0.55" stroke-linejoin="round" textLength="45.60" lengthAdjust="spacingAndGlyphs">False Positive Rate</text>
<rect x="144.00" y="265.80" width="111.70" height="107.20" fill="#fff" stroke="none" stroke-width="0"/>
<line x1="144.00" y1="373.00" x2="144.00" y2="374.20" stroke="#333" stroke-width="0.4"/>
<line x1="142.80" y1="373.00" x2="144.00" y2="373.00" stroke="#333" stroke-width="0.4"/>
<text x="144.00" y="378.80" font-size="4.20" font-weight="normal" text-anchor="middle" fill="#222" stroke="#222" stroke-width="0.3" stroke-linejoin="round">0.0</text>
<text x="142.00" y="375.10" font-size="4.20" font-weight="normal" text-anchor="end" fill="#222" stroke="#222" stroke-width="0.3" stroke-linejoin="round">0.0</text>
<line x1="166.34" y1="373.00" x2="166.34" y2="374.20" stroke="#333" stroke-width="0.4"/>
<line x1="142.80" y1="352.58" x2="144.00" y2="352.58" stroke="#333" stroke-width="0.4"/>
<text x="166.34" y="378.80" font-size="4.20" font-weight="normal" text-anchor="middle" fill="#222" stroke="#222" stroke-width="0.3" stroke-linejoin="round">0.2</text>
<text x="142.00" y="354.68" font-size="4.20" font-weight="normal" text-anchor="end" fill="#222" stroke="#222" stroke-width="0.3" stroke-linejoin="round">0.2</text>
<line x1="188.68" y1="373.00" x2="188.68" y2="374.20" stroke="#333" stroke-width="0.4"/>
<line x1="142.80" y1="332.16" x2="144.00" y2="332.16" stroke="#333" stroke-width="0.4"/>
<text x="188.68" y="378.80" font-size="4.20" font-weight="normal" text-anchor="middle" fill="#222" stroke="#222" stroke-width="0.3" stroke-linejoin="round">0.4</text>
<text x="142.00" y="334.26" font-size="4.20" font-weight="normal" text-anchor="end" fill="#222" stroke="#222" stroke-width="0.3" stroke-linejoin="round">0.4</text>
<line x1="211.02" y1="373.00" x2="211.02" y2="374.20" stroke="#333" stroke-width="0.4"/>
<line x1="142.80" y1="311.74" x2="144.00" y2="311.74" stroke="#333" stroke-width="0.4"/>
<text x="211.02" y="378.80" font-size="4.20" font-weight="normal" text-anchor="middle" fill="#222" stroke="#222" stroke-width="0.3" stroke-linejoin="round">0.6</text>
<text x="142.00" y="313.84" font-size="4.20" font-weight="normal" text-anchor="end" fill="#222" stroke="#222" stroke-width="0.3" stroke-linejoin="round">0.6</text>
<line x1="233.36" y1="373.00" x2="233.36" y2="374.20" stroke="#333" stroke-width="0.4"/>
<line x1="142.80" y1="291.32" x2="144.00" y2="291.32" stroke="#333" stroke-width="0.4"/>
<text x="233.36" y="378.80" font-size="4.20" font-weight="normal" text-anchor="middle" fill="#222" stroke="#222" stroke-width="0.3" stroke-linejoin="round">0.8</text>
<text x="142.00" y="293.42" font-size="4.20" font-weight="normal" text-anchor="end" fill="#222" stroke="#222" stroke-width="0.3" stroke-linejoin="round">0.8</text>
<line x1="255.70" y1="373.00" x2="255.70" y2="374.20" stroke="#333" stroke-width="0.4"/>
<line x1="142.80" y1="270.90" x2="144.00" y2="270.90" stroke="#333" stroke-width="0.4"/>
<text x="255.70" y="378.80" font-size="4.20" font-weight="normal" text-anchor="middle" fill="#222" stroke="#222" stroke-width="0.3" stroke-linejoin="round">1.0</text>
<text x="142.00" y="273.00" font-size="4.20" font-weight="normal" text-anchor="end" fill="#222" stroke="#222" stroke-width="0.3" stroke-linejoin="round">1.0</text>
<path d="M144.00,271.93 L145.12,272.44 L145.24,272.47 L146.48,272.50 L147.72,272.54 L148.96,272.57 L150.21,272.61 L151.45,272.64 L152.69,272.67 L153.93,272.71 L155.17,272.74 L156.41,272.78 L157.65,272.81 L158.89,272.84 L160.13,272.88 L161.38,272.91 L162.62,272.95 L163.86,272.98 L165.10,273.01 L166.34,273.05 L167.58,273.08 L168.82,273.12 L170.06,273.15 L171.30,273.18 L172.55,273.22 L173.79,273.25 L175.03,273.29 L176.27,273.32 L177.51,273.36 L178.75,273.39 L179.99,273.42 L181.23,273.46 L182.47,273.49 L183.72,273.53 L184.96,273.56 L186.20,273.59 L187.44,273.63 L188.68,273.66 L189.92,273.70 L191.16,273.73 L192.40,273.76 L193.64,273.80 L194.89,273.83 L196.13,273.87 L197.37,273.90 L198.61,273.93 L199.85,273.97 L201.09,274.00 L202.33,274.04 L203.57,274.07 L204.81,274.10 L206.06,274.14 L207.30,274.17 L208.54,274.21 L209.78,274.24 L211.02,274.27 L212.26,274.31 L213.50,274.34 L214.74,274.38 L215.98,274.41 L217.23,274.44 L218.47,274.48 L219.71,274.51 L220.95,274.55 L222.19,274.58 L223.43,274.61 L224.67,274.65 L225.91,274.68 L227.15,274.72 L228.40,274.75 L229.64,274.78 L230.88,274.82 L232.12,274.85 L233.36,274.89 L234.60,274.92 L235.84,274.95 L237.08,274.99 L238.32,275.02 L239.57,275.06 L240.81,275.09 L242.05,275.12 L242.30,275.13 L243.17,275.21 L243.29,275.23 L244.02,275.39 L244.53,275.54 L244.84,275.66 L245.63,276.01 L245.77,276.08 L246.39,276.44 L247.01,276.86 L247.12,276.94 L247.82,277.51 L248.25,277.90 L248.49,278.13 L249.13,278.82 L249.49,279.24 L249.74,279.55 L250.32,280.33 L250.74,280.94 L250.87,281.16 L251.40,282.03 L251.89,282.93 L251.98,283.11 L252.35,283.88 L252.78,284.85 L253.18,285.85 L253.22,285.94 L253.56,286.88 L253.90,287.94 L254.21,289.01 L254.46,289.97 L254.49,290.11 L254.75,291.22 L254.97,292.35 L255.16,293.49 L255.33,294.65 L255.46,295.81 L255.57,296.98 L255.64,298.16 L255.69,299.33 L255.70,300.51" fill="none" stroke="#1f77b4" stroke-width="1.0" stroke-linejoin="round"/>
<path d="M144.00,272.95 L144.67,276.01 L145.68,274.78 L146.48,274.53 L147.72,274.56 L148.96,274.59 L150.21,274.62 L151.45,274.65 L152.69,274.68 L153.93,274.70 L155.17,274.73 L156.41,274.76 L157.65,274.79 L158.89,274.82 L160.13,274.85 L161.38,274.88 L162.62,274.90 L163.86,274.93 L165.10,274.96 L166.34,274.99 L167.58,275.02 L168.82,275.05 L170.06,275.07 L171.30,275.10 L172.55,275.13 L173.79,275.16 L175.03,275.19 L176.27,275.22 L177.51,275.24 L178.75,275.27 L179.99,275.30 L181.23,275.33 L182.47,275.36 L183.72,275.39 L184.96,275.41 L186.20,275.44 L187.44,275.47 L188.68,275.50 L189.92,275.53 L191.16,275.56 L192.40,275.58 L193.64,275.61 L194.89,275.64 L196.13,275.67 L197.37,275.70 L198.61,275.73 L199.85,275.75 L201.09,275.78 L202.33,275.81 L203.57,275.84 L204.81,275.87 L206.06,275.90 L207.30,275.92 L208.54,275.95 L209.78,275.98 L211.02,276.01 L212.26,276.04 L213.50,276.07 L214.74,276.09 L215.98,276.12 L217.23,276.15 L218.47,276.18 L219.71,276.21 L220.95,276.24 L222.19,276.26 L223.43,276.29 L224.67,276.32 L225.91,276.35 L227.15,276.38 L228.40,276.41 L229.64,276.43 L230.88,276.46 L232.12,276.49 L233.36,276.52 L234.60,276.55 L235.84,276.58 L237.08,276.61 L238.32,276.63 L239.57,276.66 L240.81,276.69 L242.05,276.72 L242.30,276.72 L243.17,276.79 L243.29,276.81 L244.02,276.96 L244.53,277.10 L244.84,277.21 L245.63,277.54 L245.77,277.61 L246.39,277.94 L247.01,278.33 L247.12,278.41 L247.82,278.94 L248.25,279.31 L248.49,279.52 L249.13,280.16 L249.49,280.56 L249.74,280.85 L250.32,281.58 L250.74,282.16 L250.87,282.36 L251.40,283.17 L251.89,284.02 L251.98,284.19 L252.35,284.90 L252.78,285.82 L253.18,286.76 L253.22,286.84 L253.56,287.72 L253.90,288.71 L254.21,289.72 L254.46,290.62 L254.49,290.75 L254.75,291.79 L254.97,292.85 L255.16,293.93 L255.33,295.01 L255.46,296.10 L255.57,297.20 L255.64,298.30 L255.69,299.41 L255.70,300.51" fill="none" stroke="#ff7f0e" stroke-width="1.0" stroke-linejoin="round"/>
<path d="M144.00,270.90 L145.12,271.93 L145.24,271.97 L146.48,272.01 L147.72,272.04 L148.96,272.08 L150.21,272.12 L151.45,272.16 L152.69,272.20 L153.93,272.24 L155.17,272.28 L156.41,272.32 L157.65,272.36 L158.89,272.40 L160.13,272.44 L161.38,272.48 L162.62,272.52 L163.86,272.56 L165.10,272.60 L166.34,272.64 L167.58,272.68 L168.82,272.72 L170.06,272.76 L171.30,272.80 L172.55,272.84 L173.79,272.88 L175.03,272.92 L176.27,272.96 L177.51,273.00 L178.75,273.04 L179.99,273.08 L181.23,273.12 L182.47,273.16 L183.72,273.20 L184.96,273.24 L186.20,273.28 L187.44,273.32 L188.68,273.36 L189.92,273.39 L191.16,273.43 L192.40,273.47 L193.64,273.51 L194.89,273.55 L196.13,273.59 L197.37,273.63 L198.61,273.67 L199.85,273.71 L201.09,273.75 L202.33,273.79 L203.57,273.83 L204.81,273.87 L206.06,273.91 L207.30,273.95 L208.54,273.99 L209.78,274.03 L211.02,274.07 L212.26,274.11 L213.50,274.15 L214.74,274.19 L215.98,274.23 L217.23,274.27 L218.47,274.31 L219.71,274.35 L220.95,274.39 L222.19,274.43 L223.43,274.47 L224.67,274.51 L225.91,274.55 L227.15,274.59 L228.40,274.63 L229.64,274.67 L230.88,274.70 L232.12,274.74 L233.36,274.78 L234.60,274.82 L235.84,274.86 L237.08,274.90 L238.32,274.94 L239.57,274.98 L240.81,275.02 L242.05,275.06 L242.30,275.07 L243.17,275.15 L243.29,275.17 L244.02,275.33 L244.53,275.49 L244.84,275.61 L245.63,275.96 L245.77,276.04 L246.39,276.40 L247.01,276.82 L247.12,276.90 L247.82,277.47 L248.25,277.87 L248.49,278.10 L249.13,278.79 L249.49,279.21 L249.74,279.52 L250.32,280.31 L250.74,280.92 L250.87,281.14 L251.40,282.01 L251.89,282.92 L251.98,283.09 L252.35,283.86 L252.78,284.84 L253.18,285.84 L253.22,285.93 L253.56,286.87 L253.90,287.93 L254.21,289.01 L254.46,289.96 L254.49,290.10 L254.75,291.22 L254.97,292.35 L255.16,293.49 L255.33,294.65 L255.46,295.81 L255.57,296.98 L255.64,298.15 L255.69,299.33 L255.70,300.51" fill="none" stroke="#2ca02c" stroke-width="1.0" stroke-linejoin="round"/>
<path d="M144.45,302.55 L144.67,281.11 L145.34,276.01 L146.23,274.99 L146.48,274.84 L147.72,274.87 L148.96,274.90 L150.21,274.93 L151.45,274.95 L152.69,274.98 L153.93,275.01 L155.17,275.04 L156.41,275.07 L157.65,275.10 L158.89,275.12 L160.13,275.15 L161.38,275.18 L162.62,275.21 L163.86,275.24 L165.10,275.27 L166.34,275.29 L167.58,275.32 L168.82,275.35 L170.06,275.38 L171.30,275.41 L172.55,275.44 L173.79,275.47 L175.03,275.49 L176.27,275.52 L177.51,275.55 L178.75,275.58 L179.99,275.61 L181.23,275.64 L182.47,275.66 L183.72,275.69 L184.96,275.72 L186.20,275.75 L187.44,275.78 L188.68,275.81 L189.92,275.83 L191.16,275.86 L192.40,275.89 L193.64,275.92 L194.89,275.95 L196.13,275.98 L197.37,276.00 L198.61,276.03 L199.85,276.06 L201.09,276.09 L202.33,276.12 L203.57,276.15 L204.81,276.17 L206.06,276.20 L207.30,276.23 L208.54,276.26 L209.78,276.29 L211.02,276.32 L212.26,276.34 L213.50,276.37 L214.74,276.40 L215.98,276.43 L217.23,276.46 L218.47,276.49 L219.71,276.51 L220.95,276.54 L222.19,276.57 L223.43,276.60 L224.67,276.63 L225.91,276.66 L227.15,276.68 L228.40,276.71 L229.64,276.74 L230.88,276.77 L232.12,276.80 L233.36,276.83 L234.60,276.85 L235.84,276.88 L237.08,276.91 L238.32,276.94 L239.57,276.97 L240.81,277.00 L242.05,277.02 L242.30,277.03 L243.17,277.10 L243.29,277.12 L244.02,277.27 L244.53,277.41 L244.84,277.52 L245.63,277.85 L245.77,277.91 L246.39,278.25 L247.01,278.64 L247.12,278.72 L247.82,279.24 L248.25,279.61 L248.49,279.83 L249.13,280.47 L249.49,280.87 L249.74,281.16 L250.32,281.89 L250.74,282.46 L250.87,282.67 L251.40,283.48 L251.89,284.33 L251.98,284.49 L252.35,285.21 L252.78,286.12 L253.18,287.06 L253.22,287.15 L253.56,288.03 L253.90,289.02 L254.21,290.03 L254.46,290.92 L254.49,291.06 L254.75,292.10 L254.97,293.16 L255.16,294.23 L255.33,295.31 L255.46,296.41 L255.57,297.50 L255.64,298.61 L255.69,299.71 L255.70,300.82" fill="none" stroke="#d62728" stroke-width="1.0" stroke-linejoin="round"/>
<path d="M146.23,277.03 L147.35,275.91 L147.72,275.89 L148.96,275.92 L150.21,275.95 L151.45,275.98 L152.69,276.00 L153.93,276.03 L155.17,276.06 L156.41,276.09 L157.65,276.12 L158.89,276.15 L160.13,276.17 L161.38,276.20 L162.62,276.23 L163.86,276.26 L165.10,276.29 L166.34,276.32 L167.58,276.34 L168.82,276.37 L170.06,276.40 L171.30,276.43 L172.55,276.46 L173.79,276.49 L175.03,276.51 L176.27,276.54 L177.51,276.57 L178.75,276.60 L179.99,276.63 L181.23,276.66 L182.47,276.68 L183.72,276.71 L184.96,276.74 L186.20,276.77 L187.44,276.80 L188.68,276.83 L189.92,276.85 L191.16,276.88 L192.40,276.91 L193.64,276.94 L194.89,276.97 L196.13,277.00 L197.37,277.02 L198.61,277.05 L199.85,277.08 L201.09,277.11 L202.33,277.14 L203.57,277.17 L204.81,277.19 L206.06,277.22 L207.30,277.25 L208.54,277.28 L209.78,277.31 L211.02,277.34 L212.26,277.37 L213.50,277.39 L214.74,277.42 L215.98,277.45 L217.23,277.48 L218.47,277.51 L219.71,277.54 L220.95,277.56 L222.19,277.59 L223.43,277.62 L224.67,277.65 L225.91,277.68 L227.15,277.71 L228.40,277.73 L229.64,277.76 L230.88,277.79 L232.12,277.82 L233.36,277.85 L234.60,277.88 L235.84,277.90 L237.08,277.93 L238.32,277.96 L239.57,277.99 L240.06,278.00 L240.81,278.04 L241.09,278.07 L242.05,278.21 L242.08,278.22 L243.03,278.44 L243.29,278.51 L243.95,278.73 L244.53,278.95 L244.84,279.09 L245.69,279.50 L245.77,279.54 L246.51,279.96 L247.01,280.29 L247.29,280.48 L248.04,281.04 L248.25,281.21 L248.75,281.64 L249.43,282.28 L249.49,282.35 L250.07,282.96 L250.68,283.67 L250.74,283.74 L251.25,284.41 L251.79,285.18 L251.98,285.47 L252.01,299.49 L255.70,299.49" fill="none" stroke="#9467bd" stroke-width="1.0" stroke-linejoin="round"/>
<path d="M144.00,272.44 L145.12,273.46 L145.24,273.18 L146.48,273.22 L147.72,273.25 L148.96,273.29 L150.21,273.32 L151.45,273.36 L152.69,273.39 L153.93,273.42 L155.17,273.46 L156.41,273.49 L157.65,273.53 L158.89,273.56 L160.13,273.59 L161.38,273.63 L162.62,273.66 L163.86,273.70 L165.10,273.73 L166.34,273.76 L167.58,273.80 L168.82,273.83 L170.06,273.87 L171.30,273.90 L172.55,273.93 L173.79,273.97 L175.03,274.00 L176.27,274.04 L177.51,274.07 L178.75,274.10 L179.99,274.14 L181.23,274.17 L182.47,274.21 L183.72,274.24 L184.96,274.27 L186.20,274.31 L187.44,274.34 L188.68,274.38 L189.92,274.41 L191.16,274.44 L192.40,274.48 L193.64,274.51 L194.89,274.55 L196.13,274.58 L197.37,274.61 L198.61,274.65 L199.85,274.68 L201.09,274.72 L202.33,274.75 L203.57,274.78 L204.81,274.82 L206.06,274.85 L207.30,274.89 L208.54,274.92 L209.78,274.95 L211.02,274.99 L212.26,275.02 L213.50,275.06 L214.74,275.09 L215.98,275.12 L217.23,275.16 L218.47,275.19 L219.71,275.23 L220.95,275.26 L222.19,275.29 L223.43,275.33 L224.67,275.36 L225.91,275.40 L227.15,275.43 L228.40,275.47 L229.64,275.50 L230.88,275.53 L232.12,275.57 L233.36,275.60 L234.60,275.64 L235.84,275.67 L237.08,275.70 L238.32,275.74 L239.57,275.77 L240.81,275.81 L242.05,275.84 L242.30,275.85 L243.17,275.92 L243.29,275.94 L244.02,276.10 L244.53,276.25 L244.84,276.36 L245.63,276.71 L245.77,276.78 L246.39,277.13 L247.01,277.54 L247.12,277.62 L247.82,278.18 L248.25,278.56 L248.49,278.79 L249.13,279.46 L249.49,279.88 L249.74,280.18 L250.32,280.95 L250.74,281.54 L250.87,281.76 L251.40,282.61 L251.89,283.50 L251.98,283.67 L252.35,284.42 L252.78,285.37 L253.18,286.35 L253.22,286.44 L253.56,287.36 L253.90,288.40 L254.21,289.45 L254.46,290.39 L254.49,290.52 L254.75,291.62 L254.97,292.72 L255.16,293.84 L255.33,294.97 L255.46,296.11 L255.57,297.26 L255.64,298.41 L255.69,299.56 L255.70,300.72" fill="none" stroke="#8c564b" stroke-width="1.0" stroke-linejoin="round"/>
<rect x="144.00" y="265.80" width="111.70" height="107.20" fill="none" stroke="#7a7a7a" stroke-width="0.75"/>
<rect x="166.70" y="336.20" width="85.80" height="35.10" fill="#fff" stroke="#dddddd" stroke-width="0.4" rx="0.8"/>
<rect x="178.70" y="337.60" width="67.54" height="4.20" fill="#f5f516" stroke="none" stroke-width="0"/>
<line x1="167.70" y1="339.70" x2="176.30" y2="339.70" stroke="#1f77b4" stroke-width="1.1" stroke-opacity="0.5"/>
<text x="179.20" y="340.85" font-size="3.20" font-weight="bold" text-anchor="start" fill="#111" stroke="#111" stroke-width="0.3" stroke-linejoin="round" textLength="66.54" lengthAdjust="spacingAndGlyphs">Gradient Boosting Classifier (PR = 0.97)</text>
<line x1="167.70" y1="345.35" x2="176.30" y2="345.35" stroke="#ff7f0e" stroke-width="1.1" stroke-opacity="0.5"/>
<text x="179.20" y="346.50" font-size="3.20" font-weight="bold" text-anchor="start" fill="#111" stroke="#111" stroke-width="0.3" stroke-linejoin="round" textLength="52.43" lengthAdjust="spacingAndGlyphs">Logistic Regression (PR = 0.94)</text>
<line x1="167.70" y1="351.00" x2="176.30" y2="351.00" stroke="#2ca02c" stroke-width="1.1" stroke-opacity="0.5"/>
<text x="179.20" y="352.15" font-size="3.20" font-weight="bold" text-anchor="start" fill="#111" stroke="#111" stroke-width="0.3" stroke-linejoin="round" textLength="63.78" lengthAdjust="spacingAndGlyphs">Random Forest Classifier (AUC = 0.96)</text>
<line x1="167.70" y1="356.65" x2="176.30" y2="356.65" stroke="#d62728" stroke-width="1.1" stroke-opacity="0.5"/>
<text x="179.20" y="357.80" font-size="3.20" font-weight="bold" text-anchor="start" fill="#111" stroke="#111" stroke-width="0.3" stroke-linejoin="round" textLength="62.32" lengthAdjust="spacingAndGlyphs">Support Vector Machine (AUC = 0.94)</text>
<line x1="167.70" y1="362.30" x2="176.30" y2="362.30" stroke="#9467bd" stroke-width="1.1" stroke-opacity="0.5"/>
<text x="179.20" y="363.45" font-size="3.20" font-weight="bold" text-anchor="start" fill="#111" stroke="#111" stroke-width="0.3" stroke-linejoin="round" textLength="54.99" lengthAdjust="spacingAndGlyphs">K Nearest Neighbor (AUC = 0.93)</text>
<line x1="167.70" y1="367.95" x2="176.30" y2="367.95" stroke="#8c564b" stroke-width="1.1" stroke-opacity="0.5"/>
<text x="179.20" y="369.10" font-size="3.20" font-weight="bold" text-anchor="start" fill="#111" stroke="#111" stroke-width="0.3" stroke-linejoin="round" textLength="57.34" lengthAdjust="spacingAndGlyphs">Extra Trees Classifier (AUC = 0.95)</text>
<text x="134.00" y="262.10" font-size="4.10" font-weight="bold" text-anchor="start" fill="#000" stroke="#000" stroke-width="0.45" stroke-linejoin="round" textLength="125.90" lengthAdjust="spacingAndGlyphs">Advanced Precision Recall Curve for multiple models</text>
<text x="133.50" y="320.30" font-size="4.40" font-weight="bold" text-anchor="middle" fill="#000" stroke="#000" stroke-width="0.55" stroke-linejoin="round" textLength="23.30" lengthAdjust="spacingAndGlyphs" transform="rotate(-90 133.50 320.30)">Precision</text>
<text x="193.80" y="385.00" font-size="4.40" font-weight="bold" text-anchor="start" fill="#000" stroke="#000" stroke-width="0.55" stroke-linejoin="round" textLength="15.00" lengthAdjust="spacingAndGlyphs">Recall</text>
<rect x="278.50" y="265.50" width="110.20" height="106.20" fill="#fff" stroke="none" stroke-width="0"/>
<line x1="283.51" y1="371.70" x2="283.51" y2="372.90" stroke="#333" stroke-width="0.4"/>
<line x1="277.30" y1="366.87" x2="278.50" y2="366.87" stroke="#333" stroke-width="0.4"/>
<text x="283.51" y="377.50" font-size="4.20" font-weight="normal" text-anchor="middle" fill="#222" stroke="#222" stroke-width="0.3" stroke-linejoin="round">0.0</text>
<text x="275.90" y="368.97" font-size="4.20" font-weight="normal" text-anchor="end" fill="#222" stroke="#222" stroke-width="0.3" stroke-linejoin="round">0.0</text>
<line x1="303.55" y1="371.70" x2="303.55" y2="372.90" stroke="#333" stroke-width="0.4"/>
<line x1="277.30" y1="347.56" x2="278.50" y2="347.56" stroke="#333" stroke-width="0.4"/>
<text x="303.55" y="377.50" font-size="4.20" font-weight="normal" text-anchor="middle" fill="#222" stroke="#222" stroke-width="0.3" stroke-linejoin="round">0.2</text>
<text x="275.90" y="349.66" font-size="4.20" font-weight="normal" text-anchor="end" fill="#222" stroke="#222" stroke-width="0.3" stroke-linejoin="round">0.2</text>
<line x1="323.58" y1="371.70" x2="323.58" y2="372.90" stroke="#333" stroke-width="0.4"/>
<line x1="277.30" y1="328.25" x2="278.50" y2="328.25" stroke="#333" stroke-width="0.4"/>
<text x="323.58" y="377.50" font-size="4.20" font-weight="normal" text-anchor="middle" fill="#222" stroke="#222" stroke-width="0.3" stroke-linejoin="round">0.4</text>
<text x="275.90" y="330.35" font-size="4.20" font-weight="normal" text-anchor="end" fill="#222" stroke="#222" stroke-width="0.3" stroke-linejoin="round">0.4</text>
<line x1="343.62" y1="371.70" x2="343.62" y2="372.90" stroke="#333" stroke-width="0.4"/>
<line x1="277.30" y1="308.95" x2="278.50" y2="308.95" stroke="#333" stroke-width="0.4"/>
<text x="343.62" y="377.50" font-size="4.20" font-weight="normal" text-anchor="middle" fill="#222" stroke="#222" stroke-width="0.3" stroke-linejoin="round">0.6</text>
<text x="275.90" y="311.05" font-size="4.20" font-weight="normal" text-anchor="end" fill="#222" stroke="#222" stroke-width="0.3" stroke-linejoin="round">0.6</text>
<line x1="363.65" y1="371.70" x2="363.65" y2="372.90" stroke="#333" stroke-width="0.4"/>
<line x1="277.30" y1="289.64" x2="278.50" y2="289.64" stroke="#333" stroke-width="0.4"/>
<text x="363.65" y="377.50" font-size="4.20" font-weight="normal" text-anchor="middle" fill="#222" stroke="#222" stroke-width="0.3" stroke-linejoin="round">0.8</text>
<text x="275.90" y="291.74" font-size="4.20" font-weight="normal" text-anchor="end" fill="#222" stroke="#222" stroke-width="0.3" stroke-linejoin="round">0.8</text>
<line x1="383.69" y1="371.70" x2="383.69" y2="372.90" stroke="#333" stroke-width="0.4"/>
<line x1="277.30" y1="270.33" x2="278.50" y2="270.33" stroke="#333" stroke-width="0.4"/>
<text x="383.69" y="377.50" font-size="4.20" font-weight="normal" text-anchor="middle" fill="#222" stroke="#222" stroke-width="0.3" stroke-linejoin="round">1.0</text>
<text x="275.90" y="272.43" font-size="4.20" font-weight="normal" text-anchor="end" fill="#222" stroke="#222" stroke-width="0.3" stroke-linejoin="round">1.0</text>
<path d="M283.51,366.87 L283.56,366.46 L283.68,365.45 L283.85,363.95 L284.09,362.02 L284.38,359.70 L284.71,357.06 L285.10,354.12 L285.53,350.95 L286.01,347.57 L286.53,344.03 L287.09,340.38 L287.70,336.64 L288.35,332.86 L289.04,329.07 L289.77,325.30 L290.54,321.59 L291.35,317.95 L292.20,314.41 L293.09,310.99 L294.02,307.72 L294.98,304.59 L295.98,301.63 L297.02,298.84 L298.10,296.24 L299.21,293.81 L300.36,291.56 L301.54,289.50 L302.76,287.61 L304.02,285.89 L305.31,284.34 L306.63,282.95 L307.99,281.70 L309.39,280.59 L310.82,279.61 L312.28,278.75 L313.78,277.99 L315.31,277.33 L316.87,276.75 L318.47,276.25 L320.10,275.81 L321.76,275.44 L323.45,275.11 L325.18,274.82 L326.94,274.56 L328.74,274.33 L330.56,274.13 L332.42,273.94 L334.31,273.77 L336.23,273.60 L338.18,273.45 L340.16,273.30 L342.18,273.15 L344.23,273.00 L346.30,272.86 L348.41,272.71 L350.55,272.57 L352.72,272.42 L354.92,272.27 L357.15,272.12 L359.42,271.96 L361.71,271.81 L364.03,271.65 L366.38,271.49 L368.77,271.33 L371.18,271.17 L373.62,271.01 L376.10,270.84 L378.60,270.67 L381.13,270.50 L383.69,270.33" fill="none" stroke="#1f77b4" stroke-width="0.85" stroke-linejoin="round"/>
<path d="M283.51,366.87 L283.56,366.53 L283.68,365.67 L283.85,364.40 L284.09,362.76 L284.38,360.79 L284.71,358.52 L285.10,355.99 L285.53,353.24 L286.01,350.29 L286.53,347.18 L287.09,343.94 L287.70,340.60 L288.35,337.19 L289.04,333.73 L289.77,330.25 L290.54,326.77 L291.35,323.33 L292.20,319.94 L293.09,316.62 L294.02,313.38 L294.98,310.25 L295.98,307.24 L297.02,304.35 L298.10,301.60 L299.21,298.99 L300.36,296.53 L301.54,294.22 L302.76,292.07 L304.02,290.07 L305.31,288.22 L306.63,286.53 L307.99,284.97 L309.39,283.56 L310.82,282.28 L312.28,281.13 L313.78,280.10 L315.31,279.17 L316.87,278.35 L318.47,277.63 L320.10,276.98 L321.76,276.42 L323.45,275.92 L325.18,275.49 L326.94,275.11 L328.74,274.77 L330.56,274.47 L332.42,274.21 L334.31,273.97 L336.23,273.76 L338.18,273.56 L340.16,273.38 L342.18,273.21 L344.23,273.04 L346.30,272.88 L348.41,272.73 L350.55,272.58 L352.72,272.42 L354.92,272.27 L357.15,272.12 L359.42,271.97 L361.71,271.81 L364.03,271.65 L366.38,271.49 L368.77,271.33 L371.18,271.17 L373.62,271.01 L376.10,270.84 L378.60,270.67 L381.13,270.50 L383.69,270.33" fill="none" stroke="#ff7f0e" stroke-width="0.85" stroke-linejoin="round"/>
<path d="M283.51,366.87 L283.56,366.42 L283.68,365.31 L283.85,363.65 L284.09,361.52 L284.38,358.99 L284.71,356.09 L285.10,352.90 L285.53,349.45 L286.01,345.81 L286.53,342.01 L287.09,338.10 L287.70,334.14 L288.35,330.15 L289.04,326.18 L289.77,322.26 L290.54,318.43 L291.35,314.71 L292.20,311.12 L293.09,307.69 L294.02,304.43 L294.98,301.35 L295.98,298.47 L297.02,295.79 L298.10,293.30 L299.21,291.02 L300.36,288.94 L301.54,287.04 L302.76,285.34 L304.02,283.81 L305.31,282.44 L306.63,281.23 L307.99,280.17 L309.39,279.23 L310.82,278.42 L312.28,277.71 L313.78,277.10 L315.31,276.57 L316.87,276.11 L318.47,275.72 L320.10,275.38 L321.76,275.08 L323.45,274.82 L325.18,274.59 L326.94,274.39 L328.74,274.20 L330.56,274.03 L332.42,273.87 L334.31,273.71 L336.23,273.56 L338.18,273.42 L340.16,273.28 L342.18,273.14 L344.23,272.99 L346.30,272.85 L348.41,272.71 L350.55,272.56 L352.72,272.42 L354.92,272.27 L357.15,272.12 L359.42,271.96 L361.71,271.81 L364.03,271.65 L366.38,271.49 L368.77,271.33 L371.18,271.17 L373.62,271.01 L376.10,270.84 L378.60,270.67 L381.13,270.50 L383.69,270.33" fill="none" stroke="#2ca02c" stroke-width="0.85" stroke-linejoin="round"/>
<path d="M283.51,366.87 L283.56,366.51 L283.68,365.60 L283.85,364.25 L284.09,362.51 L284.38,360.42 L284.71,358.03 L285.10,355.36 L285.53,352.47 L286.01,349.37 L286.53,346.12 L287.09,342.73 L287.70,339.25 L288.35,335.71 L289.04,332.13 L289.77,328.55 L290.54,324.98 L291.35,321.46 L292.20,318.01 L293.09,314.65 L294.02,311.39 L294.98,308.25 L295.98,305.24 L297.02,302.38 L298.10,299.67 L299.21,297.11 L300.36,294.72 L301.54,292.49 L302.76,290.42 L304.02,288.52 L305.31,286.77 L306.63,285.17 L307.99,283.73 L309.39,282.42 L310.82,281.25 L312.28,280.20 L313.78,279.26 L315.31,278.44 L316.87,277.71 L318.47,277.07 L320.10,276.50 L321.76,276.01 L323.45,275.58 L325.18,275.20 L326.94,274.87 L328.74,274.58 L330.56,274.32 L332.42,274.09 L334.31,273.88 L336.23,273.69 L338.18,273.51 L340.16,273.34 L342.18,273.18 L344.23,273.02 L346.30,272.87 L348.41,272.72 L350.55,272.57 L352.72,272.42 L354.92,272.27 L357.15,272.12 L359.42,271.97 L361.71,271.81 L364.03,271.65 L366.38,271.49 L368.77,271.33 L371.18,271.17 L373.62,271.01 L376.10,270.84 L378.60,270.67 L381.13,270.50 L383.69,270.33" fill="none" stroke="#d62728" stroke-width="0.85" stroke-linejoin="round"/>
<path d="M283.51,366.87 L283.56,366.55 L283.68,365.76 L283.85,364.59 L284.09,363.07 L284.38,361.24 L284.71,359.14 L285.10,356.80 L285.53,354.25 L286.01,351.51 L286.53,348.63 L287.09,345.62 L287.70,342.51 L288.35,339.34 L289.04,336.12 L289.77,332.88 L290.54,329.64 L291.35,326.43 L292.20,323.26 L293.09,320.15 L294.02,317.11 L294.98,314.17 L295.98,311.33 L297.02,308.61 L298.10,306.00 L299.21,303.53 L300.36,301.18 L301.54,298.98 L302.76,296.91 L304.02,294.98 L305.31,293.18 L306.63,291.52 L307.99,289.99 L309.39,288.58 L310.82,287.30 L312.28,286.12 L313.78,285.05 L315.31,284.08 L316.87,283.20 L318.47,282.41 L320.10,281.68 L321.76,281.03 L323.45,280.44 L325.18,279.90 L326.94,279.40 L328.74,278.94 L330.56,278.52 L332.42,278.13 L334.31,277.75 L336.23,277.40 L338.18,277.05 L340.16,276.72 L342.18,276.40 L344.23,276.08 L346.30,275.76 L348.41,275.45 L350.55,275.13 L352.72,274.81 L354.92,274.49 L357.15,274.17 L359.42,273.84 L361.71,273.51 L364.03,273.17 L366.38,272.83 L368.77,272.48 L371.18,272.14 L373.62,271.78 L376.10,271.43 L378.60,271.06 L381.13,270.70 L383.69,270.33" fill="none" stroke="#9467bd" stroke-width="0.85" stroke-linejoin="round"/>
<path d="M283.51,366.87 L283.56,366.44 L283.68,365.38 L283.85,363.80 L284.09,361.77 L284.38,359.34 L284.71,356.57 L285.10,353.51 L285.53,350.20 L286.01,346.68 L286.53,343.01 L287.09,339.23 L287.70,335.38 L288.35,331.49 L289.04,327.61 L289.77,323.76 L290.54,319.98 L291.35,316.30 L292.20,312.73 L293.09,309.30 L294.02,306.03 L294.98,302.92 L295.98,300.00 L297.02,297.26 L298.10,294.71 L299.21,292.35 L300.36,290.19 L301.54,288.21 L302.76,286.41 L304.02,284.79 L305.31,283.33 L306.63,282.03 L307.99,280.88 L309.39,279.86 L310.82,278.97 L312.28,278.19 L313.78,277.50 L315.31,276.91 L316.87,276.40 L318.47,275.96 L320.10,275.57 L321.76,275.24 L323.45,274.95 L325.18,274.69 L326.94,274.46 L328.74,274.26 L330.56,274.07 L332.42,273.90 L334.31,273.73 L336.23,273.58 L338.18,273.43 L340.16,273.29 L342.18,273.14 L344.23,273.00 L346.30,272.85 L348.41,272.71 L350.55,272.56 L352.72,272.42 L354.92,272.27 L357.15,272.12 L359.42,271.96 L361.71,271.81 L364.03,271.65 L366.38,271.49 L368.77,271.33 L371.18,271.17 L373.62,271.01 L376.10,270.84 L378.60,270.67 L381.13,270.50 L383.69,270.33" fill="none" stroke="#8c564b" stroke-width="0.85" stroke-linejoin="round"/>
<path d="M283.51,366.87 L383.69,270.33" fill="none" stroke="#111" stroke-width="1.0" stroke-linejoin="round" stroke-dasharray="2.0 1.2"/>
<rect x="278.50" y="265.50" width="110.20" height="106.20" fill="none" stroke="#7a7a7a" stroke-width="0.75"/>
<rect x="297.70" y="335.80" width="88.80" height="33.60" fill="#fff" stroke="#dddddd" stroke-width="0.4" rx="0.8"/>
<line x1="298.70" y1="339.20" x2="306.30" y2="339.20" stroke="#1f77b4" stroke-width="1.1" stroke-opacity="0.5"/>
<text x="309.80" y="340.35" font-size="3.20" font-weight="bold" text-anchor="start" fill="#111" stroke="#111" stroke-width="0.3" stroke-linejoin="round" textLength="68.86" lengthAdjust="spacingAndGlyphs">Gradient Boosting Classifier (AUC = 0.79)</text>
<line x1="298.70" y1="344.55" x2="306.30" y2="344.55" stroke="#ff7f0e" stroke-width="1.1" stroke-opacity="0.5"/>
<text x="309.80" y="345.70" font-size="3.20" font-weight="bold" text-anchor="start" fill="#111" stroke="#111" stroke-width="0.3" stroke-linejoin="round" textLength="54.75" lengthAdjust="spacingAndGlyphs">Logistic Regression (AUC = 0.79)</text>
<rect x="309.30" y="347.80" width="64.78" height="4.20" fill="#f5f516" stroke="none" stroke-width="0"/>
<line x1="298.70" y1="349.90" x2="306.30" y2="349.90" stroke="#2ca02c" stroke-width="1.1" stroke-opacity="0.5"/>
<text x="309.80" y="351.05" font-size="3.20" font-weight="bold" text-anchor="start" fill="#111" stroke="#111" stroke-width="0.3" stroke-linejoin="round" textLength="63.78" lengthAdjust="spacingAndGlyphs">Random Forest Classifier (AUC = 0.82)</text>
<line x1="298.70" y1="355.25" x2="306.30" y2="355.25" stroke="#d62728" stroke-width="1.1" stroke-opacity="0.5"/>
<text x="309.80" y="356.40" font-size="3.20" font-weight="bold" text-anchor="start" fill="#111" stroke="#111" stroke-width="0.3" stroke-linejoin="round" textLength="62.32" lengthAdjust="spacingAndGlyphs">Support Vector Machine (AUC = 0.80)</text>
<line x1="298.70" y1="360.60" x2="306.30" y2="360.60" stroke="#9467bd" stroke-width="1.1" stroke-opacity="0.5"/>
<text x="309.80" y="361.75" font-size="3.20" font-weight="bold" text-anchor="start" fill="#111" stroke="#111" stroke-width="0.3" stroke-linejoin="round" textLength="54.99" lengthAdjust="spacingAndGlyphs">K Nearest Neighbor (AUC = 0.77)</text>
<line x1="298.70" y1="365.95" x2="306.30" y2="365.95" stroke="#8c564b" stroke-width="1.1" stroke-opacity="0.5"/>
<text x="309.80" y="367.10" font-size="3.20" font-weight="bold" text-anchor="start" fill="#111" stroke="#111" stroke-width="0.3" stroke-linejoin="round" textLength="57.34" lengthAdjust="spacingAndGlyphs">Extra Trees Classifier (AUC = 0.81)</text>
<text x="283.75" y="262.40" font-size="4.10" font-weight="bold" text-anchor="start" fill="#000" stroke="#000" stroke-width="0.45" stroke-linejoin="round" textLength="97.85" lengthAdjust="spacingAndGlyphs">Basic ROC-AUC Curve for multiple models</text>
<text x="268.50" y="320.00" font-size="4.40" font-weight="bold" text-anchor="middle" fill="#000" stroke="#000" stroke-width="0.55" stroke-linejoin="round" textLength="42.00" lengthAdjust="spacingAndGlyphs" transform="rotate(-90 268.50 320.00)">True Positive Rate</text>
<text x="314.40" y="384.80" font-size="4.40" font-weight="bold" text-anchor="start" fill="#000" stroke="#000" stroke-width="0.55" stroke-linejoin="round" textLength="44.40" lengthAdjust="spacingAndGlyphs">False Positive Rate</text>
<rect x="406.10" y="265.50" width="110.70" height="106.40" fill="#fff" stroke="none" stroke-width="0"/>
<line x1="406.10" y1="371.90" x2="406.10" y2="373.10" stroke="#333" stroke-width="0.4"/>
<line x1="404.90" y1="371.90" x2="406.10" y2="371.90" stroke="#333" stroke-width="0.4"/>
<text x="406.10" y="377.70" font-size="4.20" font-weight="normal" text-anchor="middle" fill="#222" stroke="#222" stroke-width="0.3" stroke-linejoin="round">0.0</text>
<text x="404.10" y="374.00" font-size="4.20" font-weight="normal" text-anchor="end" fill="#222" stroke="#222" stroke-width="0.3" stroke-linejoin="round">0.0</text>
<line x1="428.24" y1="371.90" x2="428.24" y2="373.10" stroke="#333" stroke-width="0.4"/>
<line x1="404.90" y1="351.63" x2="406.10" y2="351.63" stroke="#333" stroke-width="0.4"/>
<text x="428.24" y="377.70" font-size="4.20" font-weight="normal" text-anchor="middle" fill="#222" stroke="#222" stroke-width="0.3" stroke-linejoin="round">0.2</text>
<text x="404.10" y="353.73" font-size="4.20" font-weight="normal" text-anchor="end" fill="#222" stroke="#222" stroke-width="0.3" stroke-linejoin="round">0.2</text>
<line x1="450.38" y1="371.90" x2="450.38" y2="373.10" stroke="#333" stroke-width="0.4"/>
<line x1="404.90" y1="331.37" x2="406.10" y2="331.37" stroke="#333" stroke-width="0.4"/>
<text x="450.38" y="377.70" font-size="4.20" font-weight="normal" text-anchor="middle" fill="#222" stroke="#222" stroke-width="0.3" stroke-linejoin="round">0.4</text>
<text x="404.10" y="333.47" font-size="4.20" font-weight="normal" text-anchor="end" fill="#222" stroke="#222" stroke-width="0.3" stroke-linejoin="round">0.4</text>
<line x1="472.52" y1="371.90" x2="472.52" y2="373.10" stroke="#333" stroke-width="0.4"/>
<line x1="404.90" y1="311.10" x2="406.10" y2="311.10" stroke="#333" stroke-width="0.4"/>
<text x="472.52" y="377.70" font-size="4.20" font-weight="normal" text-anchor="middle" fill="#222" stroke="#222" stroke-width="0.3" stroke-linejoin="round">0.6</text>
<text x="404.10" y="313.20" font-size="4.20" font-weight="normal" text-anchor="end" fill="#222" stroke="#222" stroke-width="0.3" stroke-linejoin="round">0.6</text>
<line x1="494.66" y1="371.90" x2="494.66" y2="373.10" stroke="#333" stroke-width="0.4"/>
<line x1="404.90" y1="290.83" x2="406.10" y2="290.83" stroke="#333" stroke-width="0.4"/>
<text x="494.66" y="377.70" font-size="4.20" font-weight="normal" text-anchor="middle" fill="#222" stroke="#222" stroke-width="0.3" stroke-linejoin="round">0.8</text>
<text x="404.10" y="292.93" font-size="4.20" font-weight="normal" text-anchor="end" fill="#222" stroke="#222" stroke-width="0.3" stroke-linejoin="round">0.8</text>
<line x1="516.80" y1="371.90" x2="516.80" y2="373.10" stroke="#333" stroke-width="0.4"/>
<line x1="404.90" y1="270.57" x2="406.10" y2="270.57" stroke="#333" stroke-width="0.4"/>
<text x="516.80" y="377.70" font-size="4.20" font-weight="normal" text-anchor="middle" fill="#222" stroke="#222" stroke-width="0.3" stroke-linejoin="round">1.0</text>
<text x="404.10" y="272.67" font-size="4.20" font-weight="normal" text-anchor="end" fill="#222" stroke="#222" stroke-width="0.3" stroke-linejoin="round">1.0</text>
<path d="M406.10,277.66 L406.76,274.11 L407.43,276.65 L408.31,274.82 L409.42,276.14 L410.53,275.13 L411.02,275.57 L412.25,275.60 L413.48,275.63 L414.71,275.67 L415.94,275.70 L417.17,275.73 L418.40,275.77 L419.63,275.80 L420.86,275.84 L422.09,275.87 L423.32,275.90 L424.55,275.94 L425.78,275.97 L427.01,276.00 L428.24,276.04 L429.47,276.07 L430.70,276.11 L431.93,276.14 L433.16,276.17 L434.39,276.21 L435.62,276.24 L436.85,276.28 L438.08,276.31 L439.31,276.34 L440.54,276.38 L441.77,276.41 L443.00,276.44 L444.23,276.48 L445.46,276.51 L446.69,276.55 L447.92,276.58 L449.15,276.61 L450.38,276.65 L451.61,276.68 L452.84,276.71 L454.07,276.75 L455.30,276.78 L456.53,276.82 L457.76,276.85 L458.99,276.88 L460.22,276.92 L461.45,276.95 L462.68,276.98 L463.91,277.02 L465.14,277.05 L466.37,277.09 L467.60,277.12 L468.83,277.15 L470.06,277.19 L471.29,277.22 L472.52,277.25 L473.75,277.29 L474.98,277.32 L476.21,277.36 L477.44,277.39 L478.67,277.42 L479.90,277.46 L481.13,277.49 L482.36,277.52 L483.59,277.56 L484.82,277.59 L485.80,277.62 L486.05,277.63 L487.28,277.68 L487.84,277.72 L488.51,277.77 L489.74,277.89 L489.80,277.90 L490.97,278.04 L491.69,278.15 L492.20,278.23 L493.43,278.45 L493.52,278.47 L494.66,278.71 L495.27,278.85 L495.89,279.00 L496.96,279.28 L497.12,279.33 L498.35,279.70 L498.58,279.77 L499.58,280.11 L500.13,280.31 L500.81,280.56 L501.61,280.89 L502.04,281.07 L503.02,281.51 L503.27,281.62 L504.37,282.17 L504.50,282.23 L505.64,282.86 L505.73,282.91 L506.85,283.58 L506.96,283.66 L507.98,284.34 L508.19,284.48 L509.05,285.12 L509.42,285.41 L510.05,285.93 L510.65,286.45 L510.98,286.75 L511.84,287.60 L511.88,287.65 L512.63,288.47 L513.11,289.05 L513.36,289.36 L514.01,290.26 L514.34,290.76 L514.60,291.17 L515.11,292.09 L515.56,293.03 L515.57,293.05 L515.94,293.97 L516.25,294.92 L516.49,295.87 L516.66,296.82 L516.77,297.78 L516.80,298.74" fill="none" stroke="#1f77b4" stroke-width="1.0" stroke-linejoin="round"/>
<path d="M406.10,280.70 L406.54,275.63 L407.10,283.23 L407.87,277.66 L408.76,281.71 L409.75,277.15 L411.08,279.69 L412.52,276.65 L413.85,277.66 L414.71,276.87 L415.94,276.90 L417.17,276.93 L418.40,276.96 L419.63,276.99 L420.86,277.02 L422.09,277.06 L423.32,277.09 L424.55,277.12 L425.78,277.15 L427.01,277.18 L428.24,277.21 L429.47,277.25 L430.70,277.28 L431.93,277.31 L433.16,277.34 L434.39,277.37 L435.62,277.40 L436.85,277.43 L438.08,277.47 L439.31,277.50 L440.54,277.53 L441.77,277.56 L443.00,277.59 L444.23,277.62 L445.46,277.66 L446.69,277.69 L447.92,277.72 L449.15,277.75 L450.38,277.78 L451.61,277.81 L452.84,277.84 L454.07,277.88 L455.30,277.91 L456.53,277.94 L457.76,277.97 L458.99,278.00 L460.22,278.03 L461.45,278.07 L462.68,278.10 L463.91,278.13 L465.14,278.16 L466.37,278.19 L467.60,278.22 L468.83,278.25 L470.06,278.29 L471.29,278.32 L472.52,278.35 L473.75,278.38 L474.98,278.41 L476.21,278.44 L477.44,278.48 L478.67,278.51 L479.90,278.54 L481.13,278.57 L482.36,278.60 L483.59,278.63 L484.82,278.66 L486.05,278.70 L487.28,278.73 L488.02,278.75 L488.51,278.76 L489.74,278.83 L489.90,278.84 L490.97,278.93 L491.73,279.01 L492.20,279.07 L493.43,279.25 L493.49,279.26 L494.66,279.46 L495.18,279.57 L495.89,279.72 L496.81,279.94 L497.12,280.02 L498.35,280.36 L498.38,280.37 L499.58,280.75 L499.88,280.85 L500.81,281.19 L501.32,281.38 L502.04,281.67 L502.70,281.96 L503.27,282.22 L504.01,282.57 L504.50,282.82 L505.26,283.22 L505.73,283.49 L506.44,283.91 L506.96,284.24 L507.56,284.63 L508.19,285.07 L508.61,285.38 L509.42,286.01 L509.60,286.16 L510.53,286.96 L510.65,287.07 L511.40,287.79 L511.88,288.29 L512.19,288.64 L512.93,289.50 L513.11,289.73 L513.60,290.38 L514.21,291.28 L514.34,291.49 L514.75,292.19 L515.23,293.11 L515.57,293.86 L515.65,294.05 L516.00,294.99 L516.29,295.93 L516.51,296.88 L516.67,297.84 L516.77,298.79 L516.80,299.75" fill="none" stroke="#ff7f0e" stroke-width="1.0" stroke-linejoin="round"/>
<path d="M406.10,272.09 L406.99,273.10 L407.76,272.59 L408.87,274.11 L409.97,274.42 L411.02,275.08 L412.25,275.12 L413.48,275.16 L414.71,275.20 L415.94,275.24 L417.17,275.28 L418.40,275.32 L419.63,275.36 L420.86,275.40 L422.09,275.44 L423.32,275.48 L424.55,275.52 L425.78,275.55 L427.01,275.59 L428.24,275.63 L429.47,275.67 L430.70,275.71 L431.93,275.75 L433.16,275.79 L434.39,275.83 L435.62,275.87 L436.85,275.91 L438.08,275.95 L439.31,275.99 L440.54,276.03 L441.77,276.07 L443.00,276.11 L444.23,276.15 L445.46,276.19 L446.69,276.22 L447.92,276.26 L449.15,276.30 L450.38,276.34 L451.61,276.38 L452.84,276.42 L454.07,276.46 L455.30,276.50 L456.53,276.54 L457.76,276.58 L458.99,276.62 L460.22,276.66 L461.45,276.70 L462.68,276.74 L463.91,276.78 L465.14,276.82 L466.37,276.85 L467.60,276.89 L468.83,276.93 L470.06,276.97 L471.29,277.01 L472.52,277.05 L473.75,277.09 L474.98,277.13 L476.21,277.17 L477.44,277.21 L478.67,277.25 L479.90,277.29 L481.13,277.33 L482.36,277.37 L483.59,277.41 L484.82,277.45 L485.80,277.48 L486.05,277.49 L487.28,277.55 L487.84,277.59 L488.51,277.64 L489.74,277.77 L489.80,277.77 L490.97,277.93 L491.69,278.04 L492.20,278.12 L493.43,278.34 L493.52,278.36 L494.66,278.61 L495.27,278.75 L495.89,278.90 L496.96,279.19 L497.12,279.24 L498.35,279.61 L498.58,279.69 L499.58,280.03 L500.13,280.23 L500.81,280.49 L501.61,280.82 L502.04,281.00 L503.02,281.44 L503.27,281.56 L504.37,282.11 L504.50,282.18 L505.64,282.81 L505.73,282.86 L506.85,283.54 L506.96,283.61 L507.98,284.30 L508.19,284.44 L509.05,285.08 L509.42,285.37 L510.05,285.89 L510.65,286.42 L510.98,286.73 L511.84,287.58 L511.88,287.62 L512.63,288.45 L513.11,289.03 L513.36,289.34 L514.01,290.25 L514.34,290.75 L514.60,291.16 L515.11,292.09 L515.56,293.02 L515.57,293.05 L515.94,293.97 L516.25,294.92 L516.49,295.87 L516.66,296.82 L516.77,297.78 L516.80,298.74" fill="none" stroke="#2ca02c" stroke-width="1.0" stroke-linejoin="round"/>
<path d="M406.10,277.66 L406.65,274.62 L407.21,281.71 L408.09,277.15 L409.20,279.18 L410.53,276.65 L411.02,276.58 L412.25,276.61 L413.48,276.65 L414.71,276.68 L415.94,276.71 L417.17,276.75 L418.40,276.78 L419.63,276.82 L420.86,276.85 L422.09,276.88 L423.32,276.92 L424.55,276.95 L425.78,276.98 L427.01,277.02 L428.24,277.05 L429.47,277.09 L430.70,277.12 L431.93,277.15 L433.16,277.19 L434.39,277.22 L435.62,277.25 L436.85,277.29 L438.08,277.32 L439.31,277.36 L440.54,277.39 L441.77,277.42 L443.00,277.46 L444.23,277.49 L445.46,277.52 L446.69,277.56 L447.92,277.59 L449.15,277.63 L450.38,277.66 L451.61,277.69 L452.84,277.73 L454.07,277.76 L455.30,277.80 L456.53,277.83 L457.76,277.86 L458.99,277.90 L460.22,277.93 L461.45,277.96 L462.68,278.00 L463.91,278.03 L465.14,278.07 L466.37,278.10 L467.60,278.13 L468.83,278.17 L470.06,278.20 L471.29,278.23 L472.52,278.27 L473.75,278.30 L474.98,278.34 L476.21,278.37 L477.44,278.40 L478.67,278.44 L479.90,278.47 L481.13,278.50 L482.36,278.54 L483.59,278.57 L484.82,278.61 L485.80,278.63 L486.05,278.64 L487.28,278.70 L487.84,278.73 L488.51,278.78 L489.74,278.90 L489.80,278.91 L490.97,279.06 L491.69,279.16 L492.20,279.24 L493.43,279.47 L493.52,279.48 L494.66,279.72 L495.27,279.86 L495.89,280.01 L496.96,280.30 L497.12,280.34 L498.35,280.71 L498.58,280.79 L499.58,281.12 L500.13,281.32 L500.81,281.58 L501.61,281.90 L502.04,282.08 L503.02,282.52 L503.27,282.64 L504.37,283.18 L504.50,283.25 L505.64,283.87 L505.73,283.92 L506.85,284.60 L506.96,284.67 L507.98,285.35 L508.19,285.50 L509.05,286.13 L509.42,286.42 L510.05,286.94 L510.65,287.46 L510.98,287.77 L511.84,288.62 L511.88,288.66 L512.63,289.49 L513.11,290.06 L513.36,290.37 L514.01,291.27 L514.34,291.77 L514.60,292.18 L515.11,293.11 L515.56,294.04 L515.57,294.06 L515.94,294.98 L516.25,295.93 L516.49,296.88 L516.66,297.84 L516.77,298.79 L516.80,299.75" fill="none" stroke="#d62728" stroke-width="1.0" stroke-linejoin="round"/>
<path d="M406.10,275.63 L408.31,276.65 L408.56,276.92 L409.79,276.95 L411.02,276.98 L412.25,277.02 L413.48,277.05 L414.71,277.09 L415.94,277.12 L417.17,277.15 L418.40,277.19 L419.63,277.22 L420.86,277.25 L422.09,277.29 L423.32,277.32 L424.55,277.36 L425.78,277.39 L427.01,277.42 L428.24,277.46 L429.47,277.49 L430.70,277.52 L431.93,277.56 L433.16,277.59 L434.39,277.63 L435.62,277.66 L436.85,277.69 L438.08,277.73 L439.31,277.76 L440.54,277.80 L441.77,277.83 L443.00,277.86 L444.23,277.90 L445.46,277.93 L446.69,277.96 L447.92,278.00 L449.15,278.03 L450.38,278.07 L451.61,278.10 L452.84,278.13 L454.07,278.17 L455.30,278.20 L456.53,278.23 L457.76,278.27 L458.99,278.30 L460.22,278.34 L461.45,278.37 L462.68,278.40 L463.91,278.44 L465.14,278.47 L466.37,278.50 L467.60,278.54 L468.83,278.57 L470.06,278.61 L471.29,278.64 L472.52,278.67 L473.75,278.71 L474.98,278.74 L476.21,278.77 L477.44,278.81 L478.67,278.84 L479.90,278.88 L481.13,278.91 L481.38,278.92 L482.36,278.95 L483.59,279.01 L483.70,279.02 L484.82,279.10 L485.94,279.20 L486.05,279.21 L487.28,279.35 L488.11,279.45 L488.51,279.51 L489.74,279.69 L490.19,279.76 L490.97,279.90 L492.20,280.13 L493.43,280.40 L494.13,280.56 L494.66,280.69 L495.89,281.01 L495.98,281.03 L497.12,281.35 L497.75,281.55 L498.35,281.74 L499.44,282.10 L499.58,282.15 L500.81,282.61 L501.06,282.70 L502.04,283.10 L502.59,283.33 L503.27,283.64 L504.05,284.00 L504.50,284.22 L505.42,284.69 L505.73,284.86 L506.72,285.42 L506.96,285.56 L507.94,286.16 L508.19,286.32 L509.09,286.94 L509.42,287.18 L510.15,287.73 L510.65,288.13 L511.13,288.54 L511.82,298.94 L516.80,298.94" fill="none" stroke="#9467bd" stroke-width="1.0" stroke-linejoin="round"/>
<path d="M406.10,274.62 L406.99,277.66 L407.87,275.13 L408.98,276.65 L410.09,275.63 L411.02,275.79 L412.25,275.83 L413.48,275.87 L414.71,275.91 L415.94,275.95 L417.17,275.99 L418.40,276.03 L419.63,276.07 L420.86,276.11 L422.09,276.15 L423.32,276.19 L424.55,276.22 L425.78,276.26 L427.01,276.30 L428.24,276.34 L429.47,276.38 L430.70,276.42 L431.93,276.46 L433.16,276.50 L434.39,276.54 L435.62,276.58 L436.85,276.62 L438.08,276.66 L439.31,276.70 L440.54,276.74 L441.77,276.78 L443.00,276.82 L444.23,276.85 L445.46,276.89 L446.69,276.93 L447.92,276.97 L449.15,277.01 L450.38,277.05 L451.61,277.09 L452.84,277.13 L454.07,277.17 L455.30,277.21 L456.53,277.25 L457.76,277.29 L458.99,277.33 L460.22,277.37 L461.45,277.41 L462.68,277.45 L463.91,277.49 L465.14,277.52 L466.37,277.56 L467.60,277.60 L468.83,277.64 L470.06,277.68 L471.29,277.72 L472.52,277.76 L473.75,277.80 L474.98,277.84 L476.21,277.88 L477.44,277.92 L478.67,277.96 L479.90,278.00 L481.13,278.04 L482.36,278.08 L483.59,278.12 L484.82,278.16 L485.80,278.19 L486.05,278.20 L487.28,278.26 L487.84,278.30 L488.51,278.35 L489.74,278.48 L489.80,278.48 L490.97,278.64 L491.69,278.74 L492.20,278.83 L493.43,279.05 L493.52,279.07 L494.66,279.32 L495.27,279.46 L495.89,279.61 L496.96,279.90 L497.12,279.95 L498.35,280.32 L498.58,280.40 L499.58,280.74 L500.13,280.94 L500.81,281.20 L501.61,281.53 L502.04,281.71 L503.02,282.15 L503.27,282.27 L504.37,282.82 L504.50,282.89 L505.64,283.52 L505.73,283.57 L506.85,284.25 L506.96,284.32 L507.98,285.01 L508.19,285.15 L509.05,285.79 L509.42,286.08 L510.05,286.60 L510.65,287.13 L510.98,287.44 L511.84,288.29 L511.88,288.33 L512.63,289.16 L513.11,289.74 L513.36,290.05 L514.01,290.95 L514.34,291.46 L514.60,291.87 L515.11,292.80 L515.56,293.73 L515.57,293.75 L515.94,294.68 L516.25,295.62 L516.49,296.58 L516.66,297.53 L516.77,298.49 L516.80,299.45" fill="none" stroke="#8c564b" stroke-width="1.0" stroke-linejoin="round"/>
<rect x="406.10" y="265.50" width="110.70" height="106.40" fill="none" stroke="#7a7a7a" stroke-width="0.75"/>
<rect x="427.70" y="335.40" width="86.80" height="34.00" fill="#fff" stroke="#dddddd" stroke-width="0.4" rx="0.8"/>
<line x1="428.70" y1="338.70" x2="438.30" y2="338.70" stroke="#1f77b4" stroke-width="1.1" stroke-opacity="0.5"/>
<text x="441.20" y="339.85" font-size="3.20" font-weight="bold" text-anchor="start" fill="#111" stroke="#111" stroke-width="0.3" stroke-linejoin="round" textLength="66.54" lengthAdjust="spacingAndGlyphs">Gradient Boosting Classifier (PR = 0.93)</text>
<line x1="428.70" y1="344.15" x2="438.30" y2="344.15" stroke="#ff7f0e" stroke-width="1.1" stroke-opacity="0.5"/>
<text x="441.20" y="345.30" font-size="3.20" font-weight="bold" text-anchor="start" fill="#111" stroke="#111" stroke-width="0.3" stroke-linejoin="round" textLength="52.43" lengthAdjust="spacingAndGlyphs">Logistic Regression (PR = 0.91)</text>
<rect x="440.70" y="347.50" width="64.78" height="4.20" fill="#f5f516" stroke="none" stroke-width="0"/>
<line x1="428.70" y1="349.60" x2="438.30" y2="349.60" stroke="#2ca02c" stroke-width="1.1" stroke-opacity="0.5"/>
<text x="441.20" y="350.75" font-size="3.20" font-weight="bold" text-anchor="start" fill="#111" stroke="#111" stroke-width="0.3" stroke-linejoin="round" textLength="63.78" lengthAdjust="spacingAndGlyphs">Random Forest Classifier (AUC = 0.93)</text>
<line x1="428.70" y1="355.05" x2="438.30" y2="355.05" stroke="#d62728" stroke-width="1.1" stroke-opacity="0.5"/>
<text x="441.20" y="356.20" font-size="3.20" font-weight="bold" text-anchor="start" fill="#111" stroke="#111" stroke-width="0.3" stroke-linejoin="round" textLength="62.32" lengthAdjust="spacingAndGlyphs">Support Vector Machine (AUC = 0.92)</text>
<line x1="428.70" y1="360.50" x2="438.30" y2="360.50" stroke="#9467bd" stroke-width="1.1" stroke-opacity="0.5"/>
<text x="441.20" y="361.65" font-size="3.20" font-weight="bold" text-anchor="start" fill="#111" stroke="#111" stroke-width="0.3" stroke-linejoin="round" textLength="54.99" lengthAdjust="spacingAndGlyphs">K Nearest Neighbor (AUC = 0.90)</text>
<line x1="428.70" y1="365.95" x2="438.30" y2="365.95" stroke="#8c564b" stroke-width="1.1" stroke-opacity="0.5"/>
<text x="441.20" y="367.10" font-size="3.20" font-weight="bold" text-anchor="start" fill="#111" stroke="#111" stroke-width="0.3" stroke-linejoin="round" textLength="57.34" lengthAdjust="spacingAndGlyphs">Extra Trees Classifier (AUC = 0.92)</text>
<text x="402.70" y="262.30" font-size="4.10" font-weight="bold" text-anchor="start" fill="#000" stroke="#000" stroke-width="0.45" stroke-linejoin="round" textLength="112.20" lengthAdjust="spacingAndGlyphs">Basic Precision Recall Curve for multiple models</text>
<text x="395.30" y="318.70" font-size="4.40" font-weight="bold" text-anchor="middle" fill="#000" stroke="#000" stroke-width="0.55" stroke-linejoin="round" textLength="24.00" lengthAdjust="spacingAndGlyphs" transform="rotate(-90 395.30 318.70)">Precision</text>
<text x="454.20" y="383.90" font-size="4.40" font-weight="bold" text-anchor="start" fill="#000" stroke="#000" stroke-width="0.55" stroke-linejoin="round" textLength="14.90" lengthAdjust="spacingAndGlyphs">Recall</text>
</svg></body></html>
